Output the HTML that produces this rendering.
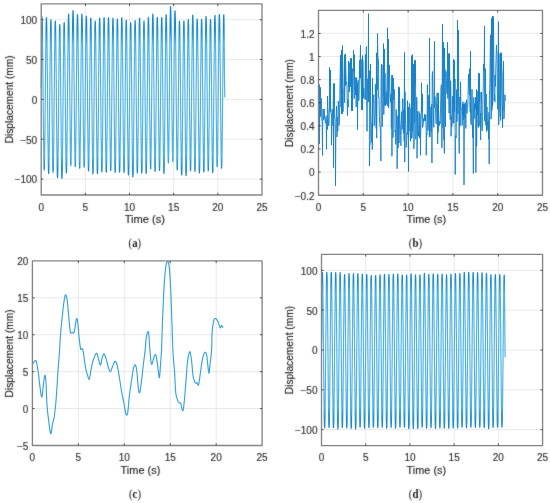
<!DOCTYPE html>
<html><head><meta charset="utf-8"><style>
html,body{margin:0;padding:0;background:#fff;}
svg{display:block;will-change:transform;}
.g{stroke:#e3e3e3;stroke-width:0.8;fill:none;}
.d{stroke:#2597d8;stroke-width:1.2;fill:none;stroke-linejoin:round;}
.bx{stroke:#858585;stroke-width:1.35;fill:none;stroke-linejoin:round;}
.tk{stroke:#333;stroke-width:0.8;}
.tl{font-family:"Liberation Sans",sans-serif;font-size:10px;fill:#303030;stroke:#303030;stroke-width:0.15px;}
.xl{font-family:"Liberation Sans",sans-serif;font-size:10.5px;fill:#262626;stroke:#262626;stroke-width:0.15px;}
.pl{font-family:"Liberation Serif",serif;font-size:11.5px;font-weight:bold;fill:#1a1a1a;}
.pp{font-weight:normal;}
</style></head><body>
<svg width="550" height="503" viewBox="0 0 550 503">

<defs><linearGradient id="ga" gradientUnits="userSpaceOnUse" x1="0" y1="3.80" x2="0" y2="195.00"><stop offset="0.000" stop-color="#1a8bd0"/><stop offset="0.133" stop-color="#1a8bd0"/><stop offset="0.208" stop-color="#4fb3e6"/><stop offset="0.792" stop-color="#4fb3e6"/><stop offset="0.867" stop-color="#1a8bd0"/><stop offset="1.000" stop-color="#1a8bd0"/></linearGradient><linearGradient id="gd" gradientUnits="userSpaceOnUse" x1="0" y1="254.40" x2="0" y2="445.60"><stop offset="0.000" stop-color="#1a8bd0"/><stop offset="0.133" stop-color="#1a8bd0"/><stop offset="0.208" stop-color="#4fb3e6"/><stop offset="0.792" stop-color="#4fb3e6"/><stop offset="0.867" stop-color="#1a8bd0"/><stop offset="1.000" stop-color="#1a8bd0"/></linearGradient><filter id="bl" x="-2%" y="-2%" width="104%" height="104%"><feConvolveMatrix order="3" kernelMatrix="1 2 1 2 24 2 1 2 1" divisor="36" edgeMode="none" preserveAlpha="false"/></filter></defs>
<line x1="85.36" y1="3.8" x2="85.36" y2="195.0" class="g"/>
<line x1="129.52" y1="3.8" x2="129.52" y2="195.0" class="g"/>
<line x1="173.68" y1="3.8" x2="173.68" y2="195.0" class="g"/>
<line x1="217.84" y1="3.8" x2="217.84" y2="195.0" class="g"/>
<line x1="41.2" y1="179.07" x2="262.0" y2="179.07" class="g"/>
<line x1="41.2" y1="139.23" x2="262.0" y2="139.23" class="g"/>
<line x1="41.2" y1="99.40" x2="262.0" y2="99.40" class="g"/>
<line x1="41.2" y1="59.57" x2="262.0" y2="59.57" class="g"/>
<line x1="41.2" y1="19.73" x2="262.0" y2="19.73" class="g"/>
<path d="M41.20,88.25 L41.23,87.94 L41.27,87.03 L41.30,85.53 L41.33,83.47 L41.37,80.87 L41.40,77.79 L41.43,74.28 L41.47,70.40 L41.50,66.21 L41.53,61.79 L41.57,57.21 L41.60,52.56 L41.63,47.90 L41.67,43.32 L41.70,38.90 L41.73,34.71 L41.77,30.83 L41.80,27.32 L41.83,24.24 L41.87,21.65 L41.90,19.58 L41.93,18.08 L41.97,17.17 L42.00,16.87 L42.09,17.52 L42.18,19.47 L42.28,22.69 L42.37,27.12 L42.46,32.68 L42.55,39.28 L42.65,46.80 L42.74,55.13 L42.83,64.10 L42.92,73.58 L43.02,83.40 L43.11,93.39 L43.20,103.37 L43.29,113.19 L43.39,122.67 L43.48,131.65 L43.57,139.97 L43.66,147.49 L43.76,154.09 L43.85,159.65 L43.94,164.08 L44.03,167.30 L44.12,169.25 L44.22,169.91 L44.31,169.25 L44.40,167.31 L44.49,164.11 L44.59,159.71 L44.68,154.17 L44.77,147.61 L44.86,140.12 L44.96,131.84 L45.05,122.91 L45.14,113.49 L45.23,103.72 L45.33,93.78 L45.42,83.85 L45.51,74.08 L45.60,64.65 L45.70,55.72 L45.79,47.44 L45.88,39.96 L45.97,33.39 L46.06,27.86 L46.16,23.46 L46.25,20.26 L46.34,18.31 L46.43,17.66 L46.53,18.33 L46.62,20.32 L46.71,23.59 L46.80,28.10 L46.90,33.76 L46.99,40.48 L47.08,48.14 L47.17,56.62 L47.27,65.76 L47.36,75.41 L47.45,85.41 L47.54,95.58 L47.64,105.75 L47.73,115.74 L47.82,125.39 L47.91,134.53 L48.00,143.01 L48.10,150.67 L48.19,157.39 L48.28,163.05 L48.37,167.56 L48.47,170.84 L48.56,172.82 L48.65,173.49 L48.74,172.83 L48.84,170.87 L48.93,167.64 L49.02,163.20 L49.11,157.62 L49.21,151.00 L49.30,143.44 L49.39,135.09 L49.48,126.08 L49.58,116.57 L49.67,106.72 L49.76,96.69 L49.85,86.67 L49.94,76.81 L50.04,67.30 L50.13,58.29 L50.22,49.94 L50.31,42.39 L50.41,35.76 L50.50,30.18 L50.59,25.74 L50.68,22.51 L50.78,20.55 L50.87,19.89 L50.96,20.54 L51.05,22.49 L51.15,25.68 L51.24,30.09 L51.33,35.61 L51.42,42.18 L51.51,49.66 L51.61,57.93 L51.70,66.86 L51.79,76.28 L51.88,86.04 L51.98,95.97 L52.07,105.90 L52.16,115.67 L52.25,125.09 L52.35,134.02 L52.44,142.29 L52.53,149.77 L52.62,156.33 L52.72,161.86 L52.81,166.26 L52.90,169.46 L52.99,171.41 L53.09,172.06 L53.18,171.41 L53.27,169.48 L53.36,166.31 L53.45,161.94 L53.55,156.45 L53.64,149.94 L53.73,142.51 L53.82,134.29 L53.92,125.43 L54.01,116.08 L54.10,106.39 L54.19,96.53 L54.29,86.67 L54.38,76.98 L54.47,67.63 L54.56,58.77 L54.66,50.56 L54.75,43.13 L54.84,36.61 L54.93,31.13 L55.03,26.76 L55.12,23.58 L55.21,21.65 L55.30,21.01 L55.39,21.68 L55.49,23.68 L55.58,26.97 L55.67,31.49 L55.76,37.18 L55.86,43.93 L55.95,51.63 L56.04,60.14 L56.13,69.33 L56.23,79.02 L56.32,89.06 L56.41,99.28 L56.50,109.50 L56.60,119.54 L56.69,129.23 L56.78,138.42 L56.87,146.93 L56.97,154.63 L57.06,161.38 L57.15,167.07 L57.24,171.59 L57.33,174.89 L57.43,176.88 L57.52,177.55 L57.61,176.90 L57.70,174.95 L57.80,171.73 L57.89,167.30 L57.98,161.74 L58.07,155.14 L58.17,147.62 L58.26,139.29 L58.35,130.32 L58.44,120.84 L58.54,111.02 L58.63,101.03 L58.72,91.05 L58.81,81.23 L58.91,71.75 L59.00,62.77 L59.09,54.45 L59.18,46.93 L59.27,40.33 L59.37,34.77 L59.46,30.34 L59.55,27.12 L59.64,25.17 L59.74,24.51 L59.83,25.17 L59.92,27.13 L60.01,30.37 L60.11,34.82 L60.20,40.41 L60.29,47.04 L60.38,54.61 L60.48,62.97 L60.57,72.00 L60.66,81.52 L60.75,91.39 L60.85,101.43 L60.94,111.47 L61.03,121.34 L61.12,130.87 L61.21,139.89 L61.31,148.26 L61.40,155.82 L61.49,162.45 L61.58,168.04 L61.68,172.49 L61.77,175.73 L61.86,177.69 L61.95,178.35 L62.05,177.68 L62.14,175.70 L62.23,172.42 L62.32,167.92 L62.42,162.26 L62.51,155.54 L62.60,147.88 L62.69,139.41 L62.79,130.28 L62.88,120.63 L62.97,110.64 L63.06,100.48 L63.15,90.31 L63.25,80.32 L63.34,70.67 L63.43,61.54 L63.52,53.07 L63.62,45.41 L63.71,38.69 L63.80,33.03 L63.89,28.53 L63.99,25.25 L64.08,23.27 L64.17,22.60 L64.26,23.24 L64.36,25.16 L64.45,28.32 L64.54,32.67 L64.63,38.13 L64.72,44.61 L64.82,51.99 L64.91,60.16 L65.00,68.98 L65.09,78.28 L65.19,87.92 L65.28,97.73 L65.37,107.53 L65.46,117.17 L65.56,126.48 L65.65,135.29 L65.74,143.46 L65.83,150.85 L65.93,157.33 L66.02,162.79 L66.11,167.13 L66.20,170.29 L66.30,172.21 L66.39,172.85 L66.48,172.17 L66.57,170.15 L66.66,166.81 L66.76,162.22 L66.85,156.45 L66.94,149.60 L67.03,141.79 L67.13,133.16 L67.22,123.85 L67.31,114.01 L67.40,103.83 L67.50,93.46 L67.59,83.10 L67.68,72.92 L67.77,63.08 L67.87,53.77 L67.96,45.14 L68.05,37.33 L68.14,30.48 L68.24,24.71 L68.33,20.12 L68.42,16.78 L68.51,14.76 L68.60,14.08 L68.70,14.72 L68.79,16.66 L68.88,19.84 L68.97,24.22 L69.07,29.72 L69.16,36.26 L69.25,43.70 L69.34,51.94 L69.44,60.82 L69.53,70.20 L69.62,79.92 L69.71,89.80 L69.81,99.68 L69.90,109.40 L69.99,118.78 L70.08,127.66 L70.18,135.90 L70.27,143.34 L70.36,149.88 L70.45,155.38 L70.54,159.76 L70.64,162.94 L70.73,164.88 L70.82,165.52 L70.91,164.86 L71.01,162.88 L71.10,159.62 L71.19,155.14 L71.28,149.50 L71.38,142.82 L71.47,135.20 L71.56,126.77 L71.65,117.67 L71.75,108.07 L71.84,98.13 L71.93,88.01 L72.02,77.89 L72.12,67.95 L72.21,58.34 L72.30,49.25 L72.39,40.82 L72.48,33.20 L72.58,26.51 L72.67,20.88 L72.76,16.39 L72.85,13.13 L72.95,11.16 L73.04,10.49 L73.13,11.16 L73.22,13.15 L73.32,16.43 L73.41,20.95 L73.50,26.63 L73.59,33.36 L73.69,41.04 L73.78,49.53 L73.87,58.69 L73.96,68.36 L74.06,78.37 L74.15,88.57 L74.24,98.76 L74.33,108.77 L74.42,118.44 L74.52,127.60 L74.61,136.09 L74.70,143.77 L74.79,150.51 L74.89,156.18 L74.98,160.70 L75.07,163.98 L75.16,165.97 L75.26,166.64 L75.35,165.99 L75.44,164.05 L75.53,160.86 L75.63,156.46 L75.72,150.94 L75.81,144.39 L75.90,136.92 L76.00,128.66 L76.09,119.75 L76.18,110.34 L76.27,100.59 L76.36,90.68 L76.46,80.76 L76.55,71.02 L76.64,61.61 L76.73,52.70 L76.83,44.43 L76.92,36.96 L77.01,30.41 L77.10,24.89 L77.20,20.50 L77.29,17.30 L77.38,15.36 L77.47,14.71 L77.57,15.37 L77.66,17.33 L77.75,20.56 L77.84,25.00 L77.94,30.58 L78.03,37.20 L78.12,44.75 L78.21,53.09 L78.30,62.10 L78.40,71.61 L78.49,81.45 L78.58,91.47 L78.67,101.49 L78.77,111.34 L78.86,120.85 L78.95,129.85 L79.04,138.20 L79.14,145.75 L79.23,152.37 L79.32,157.95 L79.41,162.39 L79.51,165.62 L79.60,167.58 L79.69,168.23 L79.78,167.57 L79.88,165.61 L79.97,162.36 L80.06,157.91 L80.15,152.30 L80.24,145.66 L80.34,138.08 L80.43,129.69 L80.52,120.65 L80.61,111.10 L80.71,101.22 L80.80,91.15 L80.89,81.09 L80.98,71.21 L81.08,61.66 L81.17,52.62 L81.26,44.23 L81.35,36.65 L81.45,30.00 L81.54,24.40 L81.63,19.94 L81.72,16.70 L81.81,14.74 L81.91,14.08 L82.00,14.73 L82.09,16.68 L82.18,19.90 L82.28,24.33 L82.37,29.89 L82.46,36.49 L82.55,44.01 L82.65,52.34 L82.74,61.31 L82.83,70.79 L82.92,80.61 L83.02,90.60 L83.11,100.58 L83.20,110.40 L83.29,119.88 L83.39,128.86 L83.48,137.18 L83.57,144.70 L83.66,151.30 L83.75,156.86 L83.85,161.29 L83.94,164.51 L84.03,166.46 L84.12,167.12 L84.22,166.47 L84.31,164.54 L84.40,161.36 L84.49,156.99 L84.59,151.50 L84.68,144.98 L84.77,137.55 L84.86,129.33 L84.96,120.47 L85.05,111.11 L85.14,101.42 L85.23,91.55 L85.33,81.69 L85.42,72.00 L85.51,62.64 L85.60,53.77 L85.69,45.55 L85.79,38.12 L85.88,31.60 L85.97,26.11 L86.06,21.74 L86.16,18.56 L86.25,16.64 L86.34,15.99 L86.43,16.65 L86.53,18.63 L86.62,21.89 L86.71,26.37 L86.80,32.01 L86.90,38.69 L86.99,46.32 L87.08,54.75 L87.17,63.84 L87.27,73.44 L87.36,83.39 L87.45,93.50 L87.54,103.62 L87.63,113.57 L87.73,123.17 L87.82,132.26 L87.91,140.69 L88.00,148.32 L88.10,155.00 L88.19,160.64 L88.28,165.12 L88.37,168.38 L88.47,170.36 L88.56,171.02 L88.65,170.37 L88.74,168.41 L88.84,165.20 L88.93,160.77 L89.02,155.21 L89.11,148.61 L89.21,141.08 L89.30,132.76 L89.39,123.78 L89.48,114.31 L89.57,104.49 L89.67,94.50 L89.76,84.51 L89.85,74.70 L89.94,65.22 L90.04,56.24 L90.13,47.92 L90.22,40.39 L90.31,33.79 L90.41,28.23 L90.50,23.81 L90.59,20.59 L90.68,18.64 L90.78,17.98 L90.87,18.65 L90.96,20.64 L91.05,23.91 L91.15,28.42 L91.24,34.09 L91.33,40.81 L91.42,48.48 L91.51,56.96 L91.61,66.10 L91.70,75.76 L91.79,85.76 L91.88,95.93 L91.98,106.11 L92.07,116.11 L92.16,125.77 L92.25,134.91 L92.35,143.39 L92.44,151.06 L92.53,157.78 L92.62,163.44 L92.72,167.95 L92.81,171.23 L92.90,173.22 L92.99,173.89 L93.09,173.23 L93.18,171.28 L93.27,168.07 L93.36,163.65 L93.45,158.09 L93.55,151.50 L93.64,143.98 L93.73,135.67 L93.82,126.70 L93.92,117.23 L94.01,107.43 L94.10,97.45 L94.19,87.47 L94.29,77.66 L94.38,68.20 L94.47,59.23 L94.56,50.91 L94.66,43.40 L94.75,36.80 L94.84,31.25 L94.93,26.83 L95.02,23.61 L95.12,21.66 L95.21,21.01 L95.30,21.66 L95.39,23.61 L95.49,26.82 L95.58,31.24 L95.67,36.79 L95.76,43.37 L95.86,50.88 L95.95,59.19 L96.04,68.15 L96.13,77.60 L96.23,87.40 L96.32,97.37 L96.41,107.34 L96.50,117.13 L96.60,126.59 L96.69,135.55 L96.78,143.85 L96.87,151.36 L96.96,157.95 L97.06,163.50 L97.15,167.92 L97.24,171.13 L97.33,173.08 L97.43,173.73 L97.52,173.06 L97.61,171.08 L97.70,167.81 L97.80,163.31 L97.89,157.65 L97.98,150.94 L98.07,143.29 L98.17,134.83 L98.26,125.71 L98.35,116.07 L98.44,106.09 L98.54,95.93 L98.63,85.78 L98.72,75.80 L98.81,66.16 L98.90,57.04 L99.00,48.58 L99.09,40.93 L99.18,34.22 L99.27,28.56 L99.37,24.06 L99.46,20.79 L99.55,18.81 L99.64,18.14 L99.74,18.80 L99.83,20.76 L99.92,23.99 L100.01,28.43 L100.11,34.02 L100.20,40.65 L100.29,48.20 L100.38,56.56 L100.48,65.57 L100.57,75.09 L100.66,84.95 L100.75,94.98 L100.84,105.01 L100.94,114.87 L101.03,124.38 L101.12,133.40 L101.21,141.75 L101.31,149.31 L101.40,155.94 L101.49,161.52 L101.58,165.97 L101.68,169.20 L101.77,171.16 L101.86,171.82 L101.95,171.16 L102.05,169.19 L102.14,165.95 L102.23,161.49 L102.32,155.89 L102.42,149.24 L102.51,141.66 L102.60,133.28 L102.69,124.24 L102.78,114.69 L102.88,104.80 L102.97,94.74 L103.06,84.68 L103.15,74.79 L103.25,65.24 L103.34,56.20 L103.43,47.82 L103.52,40.24 L103.62,33.59 L103.71,27.99 L103.80,23.53 L103.89,20.29 L103.99,18.32 L104.08,17.66 L104.17,18.32 L104.26,20.29 L104.36,23.54 L104.45,28.00 L104.54,33.61 L104.63,40.27 L104.72,47.86 L104.82,56.26 L104.91,65.32 L105.00,74.88 L105.09,84.78 L105.19,94.86 L105.28,104.94 L105.37,114.84 L105.46,124.40 L105.56,133.46 L105.65,141.85 L105.74,149.45 L105.83,156.10 L105.93,161.71 L106.02,166.18 L106.11,169.43 L106.20,171.40 L106.30,172.06 L106.39,171.40 L106.48,169.42 L106.57,166.18 L106.66,161.71 L106.76,156.10 L106.85,149.43 L106.94,141.84 L107.03,133.44 L107.13,124.38 L107.22,114.81 L107.31,104.90 L107.40,94.82 L107.50,84.74 L107.59,74.83 L107.68,65.26 L107.77,56.20 L107.87,47.80 L107.96,40.20 L108.05,33.54 L108.14,27.93 L108.24,23.46 L108.33,20.21 L108.42,18.24 L108.51,17.58 L108.60,18.24 L108.70,20.19 L108.79,23.40 L108.88,27.82 L108.97,33.37 L109.07,39.96 L109.16,47.47 L109.25,55.78 L109.34,64.75 L109.44,74.21 L109.53,84.01 L109.62,93.98 L109.71,103.95 L109.81,113.76 L109.90,123.22 L109.99,132.18 L110.08,140.49 L110.17,148.01 L110.27,154.60 L110.36,160.15 L110.45,164.57 L110.54,167.78 L110.64,169.73 L110.73,170.38 L110.82,169.73 L110.91,167.79 L111.01,164.59 L111.10,160.19 L111.19,154.66 L111.28,148.10 L111.38,140.62 L111.47,132.34 L111.56,123.42 L111.65,113.99 L111.75,104.23 L111.84,94.30 L111.93,84.37 L112.02,74.61 L112.11,65.19 L112.21,56.26 L112.30,47.99 L112.39,40.50 L112.48,33.94 L112.58,28.41 L112.67,24.01 L112.76,20.81 L112.85,18.87 L112.95,18.22 L113.04,18.88 L113.13,20.85 L113.22,24.09 L113.32,28.55 L113.41,34.16 L113.50,40.81 L113.59,48.39 L113.69,56.78 L113.78,65.83 L113.87,75.38 L113.96,85.27 L114.05,95.34 L114.15,105.40 L114.24,115.30 L114.33,124.85 L114.42,133.90 L114.52,142.28 L114.61,149.87 L114.70,156.52 L114.79,162.12 L114.89,166.58 L114.98,169.83 L115.07,171.79 L115.16,172.45 L115.26,171.80 L115.35,169.84 L115.44,166.61 L115.53,162.18 L115.63,156.60 L115.72,149.98 L115.81,142.44 L115.90,134.09 L115.99,125.09 L116.09,115.59 L116.18,105.75 L116.27,95.74 L116.36,85.72 L116.46,75.88 L116.55,66.38 L116.64,57.38 L116.73,49.03 L116.83,41.49 L116.92,34.87 L117.01,29.29 L117.10,24.86 L117.20,21.63 L117.29,19.67 L117.38,19.02 L117.47,19.67 L117.57,21.62 L117.66,24.84 L117.75,29.27 L117.84,34.83 L117.93,41.43 L118.03,48.95 L118.12,57.28 L118.21,66.25 L118.30,75.73 L118.40,85.55 L118.49,95.54 L118.58,105.52 L118.67,115.34 L118.77,124.82 L118.86,133.80 L118.95,142.12 L119.04,149.64 L119.14,156.24 L119.23,161.80 L119.32,166.23 L119.41,169.45 L119.51,171.40 L119.60,172.06 L119.69,171.40 L119.78,169.43 L119.87,166.18 L119.97,161.71 L120.06,156.10 L120.15,149.45 L120.24,141.85 L120.34,133.46 L120.43,124.40 L120.52,114.84 L120.61,104.94 L120.71,94.86 L120.80,84.78 L120.89,74.88 L120.98,65.32 L121.08,56.26 L121.17,47.86 L121.26,40.27 L121.35,33.61 L121.45,28.00 L121.54,23.54 L121.63,20.29 L121.72,18.32 L121.81,17.66 L121.91,18.32 L122.00,20.30 L122.09,23.55 L122.18,28.03 L122.28,33.66 L122.37,40.33 L122.46,47.94 L122.55,56.36 L122.65,65.44 L122.74,75.03 L122.83,84.96 L122.92,95.06 L123.02,105.16 L123.11,115.09 L123.20,124.68 L123.29,133.76 L123.39,142.17 L123.48,149.79 L123.57,156.46 L123.66,162.09 L123.75,166.56 L123.85,169.82 L123.94,171.79 L124.03,172.45 L124.12,171.80 L124.22,169.86 L124.31,166.65 L124.40,162.25 L124.49,156.71 L124.59,150.14 L124.68,142.64 L124.77,134.35 L124.86,125.41 L124.96,115.98 L125.05,106.20 L125.14,96.25 L125.23,86.31 L125.33,76.53 L125.42,67.09 L125.51,58.15 L125.60,49.86 L125.69,42.37 L125.79,35.80 L125.88,30.26 L125.97,25.85 L126.06,22.65 L126.16,20.70 L126.25,20.05 L126.34,20.71 L126.43,22.69 L126.53,25.94 L126.62,30.42 L126.71,36.05 L126.80,42.72 L126.90,50.33 L126.99,58.75 L127.08,67.83 L127.17,77.42 L127.26,87.35 L127.36,97.45 L127.45,107.55 L127.54,117.48 L127.63,127.07 L127.73,136.15 L127.82,144.56 L127.91,152.18 L128.00,158.85 L128.10,164.48 L128.19,168.95 L128.28,172.21 L128.37,174.18 L128.47,174.84 L128.56,174.19 L128.65,172.25 L128.74,169.05 L128.84,164.65 L128.93,159.11 L129.02,152.55 L129.11,145.06 L129.20,136.78 L129.30,127.85 L129.39,118.42 L129.48,108.66 L129.57,98.72 L129.67,88.79 L129.76,79.02 L129.85,69.59 L129.94,60.66 L130.04,52.38 L130.13,44.90 L130.22,38.33 L130.31,32.80 L130.41,28.40 L130.50,25.20 L130.59,23.25 L130.68,22.60 L130.78,23.26 L130.87,25.23 L130.96,28.48 L131.05,32.94 L131.14,38.55 L131.24,45.21 L131.33,52.80 L131.42,61.20 L131.51,70.26 L131.61,79.82 L131.70,89.72 L131.79,99.80 L131.88,109.87 L131.98,119.78 L132.07,129.34 L132.16,138.40 L132.25,146.79 L132.35,154.38 L132.44,161.04 L132.53,166.65 L132.62,171.12 L132.72,174.36 L132.81,176.33 L132.90,177.00 L132.99,176.33 L133.08,174.33 L133.18,171.05 L133.27,166.52 L133.36,160.85 L133.45,154.10 L133.55,146.42 L133.64,137.92 L133.73,128.75 L133.82,119.07 L133.92,109.04 L134.01,98.84 L134.10,88.64 L134.19,78.61 L134.29,68.93 L134.38,59.77 L134.47,51.27 L134.56,43.58 L134.66,36.84 L134.75,31.16 L134.84,26.64 L134.93,23.35 L135.02,21.36 L135.12,20.69 L135.21,21.34 L135.30,23.28 L135.39,26.48 L135.49,30.88 L135.58,36.41 L135.67,42.97 L135.76,50.46 L135.86,58.73 L135.95,67.66 L136.04,77.08 L136.13,86.84 L136.23,96.77 L136.32,106.70 L136.41,116.46 L136.50,125.89 L136.60,134.81 L136.69,143.09 L136.78,150.57 L136.87,157.13 L136.96,162.66 L137.06,167.06 L137.15,170.26 L137.24,172.20 L137.33,172.85 L137.43,172.19 L137.52,170.21 L137.61,166.96 L137.70,162.48 L137.80,156.85 L137.89,150.17 L137.98,142.56 L138.07,134.13 L138.17,125.05 L138.26,115.46 L138.35,105.52 L138.44,95.42 L138.54,85.31 L138.63,75.37 L138.72,65.78 L138.81,56.70 L138.90,48.28 L139.00,40.66 L139.09,33.98 L139.18,28.36 L139.27,23.88 L139.37,20.62 L139.46,18.64 L139.55,17.98 L139.64,18.64 L139.74,20.62 L139.83,23.88 L139.92,28.37 L140.01,34.01 L140.11,40.70 L140.20,48.32 L140.29,56.76 L140.38,65.86 L140.48,75.46 L140.57,85.41 L140.66,95.54 L140.75,105.66 L140.84,115.61 L140.94,125.22 L141.03,134.31 L141.12,142.75 L141.21,150.38 L141.31,157.07 L141.40,162.70 L141.49,167.19 L141.58,170.45 L141.68,172.43 L141.77,173.09 L141.86,172.44 L141.95,170.50 L142.05,167.31 L142.14,162.91 L142.23,157.39 L142.32,150.84 L142.41,143.37 L142.51,135.11 L142.60,126.20 L142.69,116.79 L142.78,107.04 L142.88,97.13 L142.97,87.21 L143.06,77.47 L143.15,68.06 L143.25,59.15 L143.34,50.89 L143.43,43.42 L143.52,36.86 L143.62,31.34 L143.71,26.95 L143.80,23.76 L143.89,21.82 L143.99,21.17 L144.08,21.82 L144.17,23.76 L144.26,26.96 L144.35,31.37 L144.45,36.91 L144.54,43.47 L144.63,50.96 L144.72,59.25 L144.82,68.18 L144.91,77.62 L145.00,87.39 L145.09,97.33 L145.19,107.27 L145.28,117.04 L145.37,126.47 L145.46,135.41 L145.56,143.69 L145.65,151.18 L145.74,157.75 L145.83,163.29 L145.93,167.69 L146.02,170.89 L146.11,172.84 L146.20,173.49 L146.29,172.82 L146.39,170.83 L146.48,167.55 L146.57,163.04 L146.66,157.36 L146.76,150.63 L146.85,142.96 L146.94,134.47 L147.03,125.32 L147.13,115.65 L147.22,105.64 L147.31,95.46 L147.40,85.27 L147.50,75.26 L147.59,65.59 L147.68,56.44 L147.77,47.95 L147.87,40.28 L147.96,33.55 L148.05,27.88 L148.14,23.36 L148.23,20.08 L148.33,18.09 L148.42,17.42 L148.51,18.07 L148.60,20.00 L148.70,23.19 L148.79,27.57 L148.88,33.08 L148.97,39.61 L149.07,47.06 L149.16,55.30 L149.25,64.19 L149.34,73.58 L149.44,83.30 L149.53,93.19 L149.62,103.08 L149.71,112.79 L149.81,122.18 L149.90,131.07 L149.99,139.31 L150.08,146.76 L150.17,153.29 L150.27,158.80 L150.36,163.18 L150.45,166.37 L150.54,168.30 L150.64,168.95 L150.73,168.29 L150.82,166.31 L150.91,163.05 L151.01,158.57 L151.10,152.95 L151.19,146.27 L151.28,138.65 L151.38,130.23 L151.47,121.15 L151.56,111.55 L151.65,101.62 L151.75,91.51 L151.84,81.41 L151.93,71.47 L152.02,61.88 L152.11,52.80 L152.21,44.37 L152.30,36.76 L152.39,30.08 L152.48,24.45 L152.58,19.97 L152.67,16.72 L152.76,14.74 L152.85,14.08 L152.95,14.75 L153.04,16.76 L153.13,20.06 L153.22,24.61 L153.32,30.33 L153.41,37.11 L153.50,44.84 L153.59,53.39 L153.69,62.62 L153.78,72.36 L153.87,82.44 L153.96,92.71 L154.05,102.97 L154.15,113.06 L154.24,122.80 L154.33,132.02 L154.42,140.58 L154.52,148.31 L154.61,155.09 L154.70,160.80 L154.79,165.35 L154.89,168.66 L154.98,170.67 L155.07,171.34 L155.16,170.68 L155.26,168.72 L155.35,165.48 L155.44,161.03 L155.53,155.44 L155.62,148.80 L155.72,141.23 L155.81,132.86 L155.90,123.83 L155.99,114.30 L156.09,104.43 L156.18,94.38 L156.27,84.34 L156.36,74.46 L156.46,64.93 L156.55,55.90 L156.64,47.53 L156.73,39.96 L156.83,33.33 L156.92,27.73 L157.01,23.28 L157.10,20.05 L157.20,18.08 L157.29,17.42 L157.38,18.08 L157.47,20.03 L157.56,23.24 L157.66,27.67 L157.75,33.23 L157.84,39.82 L157.93,47.34 L158.03,55.66 L158.12,64.64 L158.21,74.11 L158.30,83.92 L158.40,93.90 L158.49,103.89 L158.58,113.70 L158.67,123.17 L158.77,132.14 L158.86,140.46 L158.95,147.98 L159.04,154.58 L159.14,160.14 L159.23,164.56 L159.32,167.78 L159.41,169.73 L159.50,170.38 L159.60,169.73 L159.69,167.78 L159.78,164.57 L159.87,160.15 L159.97,154.60 L160.06,148.02 L160.15,140.51 L160.24,132.20 L160.34,123.24 L160.43,113.79 L160.52,103.99 L160.61,94.02 L160.71,84.06 L160.80,74.26 L160.89,64.80 L160.98,55.84 L161.08,47.54 L161.17,40.03 L161.26,33.44 L161.35,27.89 L161.44,23.47 L161.54,20.26 L161.63,18.32 L161.72,17.66 L161.81,18.33 L161.91,20.32 L162.00,23.59 L162.09,28.10 L162.18,33.76 L162.28,40.48 L162.37,48.14 L162.46,56.62 L162.55,65.76 L162.65,75.41 L162.74,85.41 L162.83,95.58 L162.92,105.75 L163.02,115.74 L163.11,125.39 L163.20,134.53 L163.29,143.01 L163.38,150.67 L163.48,157.39 L163.57,163.05 L163.66,167.56 L163.75,170.84 L163.85,172.82 L163.94,173.49 L164.03,172.81 L164.12,170.78 L164.22,167.45 L164.31,162.85 L164.40,157.08 L164.49,150.24 L164.59,142.43 L164.68,133.80 L164.77,124.48 L164.86,114.65 L164.96,104.46 L165.05,94.10 L165.14,83.74 L165.23,73.56 L165.32,63.72 L165.42,54.41 L165.51,45.77 L165.60,37.97 L165.69,31.12 L165.79,25.35 L165.88,20.76 L165.97,17.42 L166.06,15.39 L166.16,14.71 L166.25,15.35 L166.34,17.24 L166.43,20.35 L166.53,24.64 L166.62,30.02 L166.71,36.40 L166.80,43.69 L166.90,51.74 L166.99,60.43 L167.08,69.60 L167.17,79.10 L167.26,88.76 L167.36,98.43 L167.45,107.93 L167.54,117.10 L167.63,125.79 L167.73,133.84 L167.82,141.13 L167.91,147.51 L168.00,152.89 L168.10,157.18 L168.19,160.29 L168.28,162.18 L168.37,162.81 L168.47,162.15 L168.56,160.15 L168.65,156.87 L168.74,152.34 L168.84,146.66 L168.93,139.92 L169.02,132.24 L169.11,123.74 L169.20,114.57 L169.30,104.89 L169.39,94.86 L169.48,84.66 L169.57,74.46 L169.67,64.43 L169.76,54.75 L169.85,45.59 L169.94,37.09 L170.04,29.40 L170.13,22.66 L170.22,16.98 L170.31,12.46 L170.41,9.17 L170.50,7.18 L170.59,6.51 L170.68,7.17 L170.78,9.15 L170.87,12.42 L170.96,16.90 L171.05,22.54 L171.14,29.24 L171.24,36.87 L171.33,45.31 L171.42,54.41 L171.51,64.02 L171.61,73.98 L171.70,84.10 L171.79,94.23 L171.88,104.19 L171.98,113.80 L172.07,122.90 L172.16,131.34 L172.25,138.97 L172.35,145.66 L172.44,151.30 L172.53,155.79 L172.62,159.06 L172.71,161.04 L172.81,161.70 L172.90,161.05 L172.99,159.13 L173.08,155.96 L173.18,151.60 L173.27,146.12 L173.36,139.61 L173.45,132.20 L173.55,124.00 L173.64,115.15 L173.73,105.81 L173.82,96.14 L173.92,86.29 L174.01,76.45 L174.10,66.78 L174.19,57.44 L174.29,48.59 L174.38,40.39 L174.47,32.98 L174.56,26.47 L174.65,20.99 L174.75,16.63 L174.84,13.46 L174.93,11.54 L175.02,10.89 L175.12,11.57 L175.21,13.60 L175.30,16.94 L175.39,21.54 L175.49,27.32 L175.58,34.18 L175.67,42.00 L175.76,50.64 L175.86,59.97 L175.95,69.82 L176.04,80.02 L176.13,90.40 L176.23,100.78 L176.32,110.98 L176.41,120.82 L176.50,130.15 L176.59,138.80 L176.69,146.62 L176.78,153.48 L176.87,159.25 L176.96,163.85 L177.06,167.20 L177.15,169.22 L177.24,169.91 L177.33,169.27 L177.43,167.37 L177.52,164.24 L177.61,159.93 L177.70,154.52 L177.80,148.10 L177.89,140.78 L177.98,132.68 L178.07,123.95 L178.17,114.73 L178.26,105.17 L178.35,95.46 L178.44,85.74 L178.53,76.19 L178.63,66.97 L178.72,58.23 L178.81,50.14 L178.90,42.81 L179.00,36.39 L179.09,30.98 L179.18,26.68 L179.27,23.54 L179.37,21.64 L179.46,21.01 L179.55,21.67 L179.64,23.63 L179.74,26.87 L179.83,31.32 L179.92,36.92 L180.01,43.56 L180.11,51.13 L180.20,59.51 L180.29,68.54 L180.38,78.08 L180.47,87.96 L180.57,98.01 L180.66,108.06 L180.75,117.93 L180.84,127.47 L180.94,136.50 L181.03,144.88 L181.12,152.45 L181.21,159.09 L181.31,164.69 L181.40,169.14 L181.49,172.38 L181.58,174.34 L181.68,175.00 L181.77,174.34 L181.86,172.38 L181.95,169.14 L182.05,164.69 L182.14,159.09 L182.23,152.45 L182.32,144.88 L182.41,136.50 L182.51,127.47 L182.60,117.93 L182.69,108.06 L182.78,98.01 L182.88,87.96 L182.97,78.08 L183.06,68.54 L183.15,59.51 L183.25,51.13 L183.34,43.56 L183.43,36.92 L183.52,31.32 L183.62,26.87 L183.71,23.63 L183.80,21.67 L183.89,21.01 L183.99,21.67 L184.08,23.64 L184.17,26.89 L184.26,31.37 L184.35,36.99 L184.45,43.65 L184.54,51.26 L184.63,59.67 L184.72,68.74 L184.82,78.31 L184.91,88.23 L185.00,98.32 L185.09,108.42 L185.19,118.34 L185.28,127.91 L185.37,136.98 L185.46,145.39 L185.56,153.00 L185.65,159.66 L185.74,165.28 L185.83,169.76 L185.93,173.01 L186.02,174.98 L186.11,175.64 L186.20,174.97 L186.29,172.98 L186.39,169.70 L186.48,165.19 L186.57,159.52 L186.66,152.79 L186.76,145.11 L186.85,136.62 L186.94,127.47 L187.03,117.80 L187.13,107.79 L187.22,97.61 L187.31,87.42 L187.40,77.41 L187.50,67.75 L187.59,58.59 L187.68,50.10 L187.77,42.43 L187.86,35.70 L187.96,30.03 L188.05,25.51 L188.14,22.23 L188.23,20.24 L188.33,19.57 L188.42,20.22 L188.51,22.15 L188.60,25.33 L188.70,29.70 L188.79,35.19 L188.88,41.71 L188.97,49.14 L189.07,57.36 L189.16,66.22 L189.25,75.58 L189.34,85.27 L189.44,95.14 L189.53,105.00 L189.62,114.70 L189.71,124.05 L189.80,132.92 L189.90,141.14 L189.99,148.57 L190.08,155.09 L190.17,160.58 L190.27,164.95 L190.36,168.13 L190.45,170.06 L190.54,170.70 L190.64,170.04 L190.73,168.05 L190.82,164.78 L190.91,160.28 L191.01,154.63 L191.10,147.93 L191.19,140.28 L191.28,131.82 L191.38,122.70 L191.47,113.07 L191.56,103.10 L191.65,92.95 L191.74,82.80 L191.84,72.82 L191.93,63.19 L192.02,54.07 L192.11,45.61 L192.21,37.97 L192.30,31.26 L192.39,25.61 L192.48,21.11 L192.58,17.84 L192.67,15.86 L192.76,15.19 L192.85,15.86 L192.95,17.86 L193.04,21.14 L193.13,25.66 L193.22,31.34 L193.32,38.08 L193.41,45.77 L193.50,54.27 L193.59,63.44 L193.68,73.12 L193.78,83.14 L193.87,93.35 L193.96,103.55 L194.05,113.57 L194.15,123.25 L194.24,132.42 L194.33,140.92 L194.42,148.61 L194.52,155.35 L194.61,161.03 L194.70,165.55 L194.79,168.84 L194.89,170.83 L194.98,171.50 L195.07,170.85 L195.16,168.90 L195.26,165.69 L195.35,161.28 L195.44,155.74 L195.53,149.17 L195.62,141.67 L195.72,133.38 L195.81,124.43 L195.90,114.99 L195.99,105.21 L196.09,95.26 L196.18,85.31 L196.27,75.52 L196.36,66.08 L196.46,57.14 L196.55,48.84 L196.64,41.35 L196.73,34.77 L196.83,29.23 L196.92,24.82 L197.01,21.61 L197.10,19.67 L197.20,19.02 L197.29,19.67 L197.38,21.64 L197.47,24.87 L197.56,29.32 L197.66,34.91 L197.75,41.55 L197.84,49.11 L197.93,57.48 L198.03,66.50 L198.12,76.03 L198.21,85.89 L198.30,95.93 L198.40,105.97 L198.49,115.84 L198.58,125.37 L198.67,134.39 L198.77,142.76 L198.86,150.32 L198.95,156.96 L199.04,162.55 L199.14,167.00 L199.23,170.23 L199.32,172.19 L199.41,172.85 L199.50,172.20 L199.60,170.24 L199.69,167.01 L199.78,162.56 L199.87,156.98 L199.97,150.36 L200.06,142.81 L200.15,134.45 L200.24,125.44 L200.34,115.93 L200.43,106.08 L200.52,96.05 L200.61,86.03 L200.71,76.18 L200.80,66.66 L200.89,57.65 L200.98,49.30 L201.07,41.75 L201.17,35.13 L201.26,29.54 L201.35,25.10 L201.44,21.87 L201.54,19.91 L201.63,19.26 L201.72,19.91 L201.81,21.86 L201.91,25.06 L202.00,29.48 L202.09,35.03 L202.18,41.61 L202.28,49.11 L202.37,57.42 L202.46,66.37 L202.55,75.82 L202.65,85.61 L202.74,95.58 L202.83,105.54 L202.92,115.33 L203.01,124.78 L203.11,133.74 L203.20,142.04 L203.29,149.54 L203.38,156.13 L203.48,161.67 L203.57,166.09 L203.66,169.30 L203.75,171.24 L203.85,171.90 L203.94,171.23 L204.03,169.25 L204.12,165.97 L204.22,161.47 L204.31,155.82 L204.40,149.11 L204.49,141.46 L204.59,133.00 L204.68,123.87 L204.77,114.24 L204.86,104.26 L204.95,94.10 L205.05,83.95 L205.14,73.97 L205.23,64.33 L205.32,55.20 L205.42,46.74 L205.51,39.09 L205.60,32.38 L205.69,26.73 L205.79,22.23 L205.88,18.96 L205.97,16.97 L206.06,16.31 L206.16,16.97 L206.25,18.94 L206.34,22.18 L206.43,26.64 L206.53,32.25 L206.62,38.91 L206.71,46.49 L206.80,54.89 L206.89,63.94 L206.99,73.50 L207.08,83.39 L207.17,93.46 L207.26,103.54 L207.36,113.43 L207.45,122.99 L207.54,132.04 L207.63,140.44 L207.73,148.02 L207.82,154.68 L207.91,160.28 L208.00,164.75 L208.10,167.99 L208.19,169.96 L208.28,170.62 L208.37,169.98 L208.47,168.05 L208.56,164.87 L208.65,160.50 L208.74,155.02 L208.83,148.50 L208.93,141.07 L209.02,132.86 L209.11,124.00 L209.20,114.65 L209.30,104.96 L209.39,95.10 L209.48,85.24 L209.57,75.55 L209.67,66.20 L209.76,57.34 L209.85,49.12 L209.94,41.69 L210.04,35.18 L210.13,29.69 L210.22,25.32 L210.31,22.15 L210.41,20.22 L210.50,19.57 L210.59,20.23 L210.68,22.18 L210.77,25.40 L210.87,29.83 L210.96,35.39 L211.05,42.00 L211.14,49.53 L211.24,57.85 L211.33,66.84 L211.42,76.32 L211.51,86.14 L211.61,96.13 L211.70,106.13 L211.79,115.95 L211.88,125.43 L211.98,134.41 L212.07,142.74 L212.16,150.27 L212.25,156.87 L212.35,162.44 L212.44,166.87 L212.53,170.08 L212.62,172.04 L212.71,172.69 L212.81,172.02 L212.90,170.01 L212.99,166.70 L213.08,162.15 L213.18,156.44 L213.27,149.65 L213.36,141.91 L213.45,133.36 L213.55,124.13 L213.64,114.38 L213.73,104.29 L213.82,94.02 L213.92,83.75 L214.01,73.66 L214.10,63.92 L214.19,54.69 L214.29,46.13 L214.38,38.39 L214.47,31.61 L214.56,25.89 L214.65,21.34 L214.75,18.03 L214.84,16.02 L214.93,15.35 L215.02,16.00 L215.12,17.93 L215.21,21.11 L215.30,25.49 L215.39,30.98 L215.49,37.51 L215.58,44.95 L215.67,53.17 L215.76,62.05 L215.86,71.42 L215.95,81.12 L216.04,91.00 L216.13,100.87 L216.23,110.57 L216.32,119.94 L216.41,128.82 L216.50,137.04 L216.59,144.48 L216.69,151.01 L216.78,156.50 L216.87,160.88 L216.96,164.06 L217.06,165.99 L217.15,166.64 L217.24,165.99 L217.33,164.05 L217.43,160.85 L217.52,156.45 L217.61,150.92 L217.70,144.37 L217.80,136.89 L217.89,128.62 L217.98,119.70 L218.07,110.28 L218.16,100.52 L218.26,90.60 L218.35,80.67 L218.44,70.92 L218.53,61.50 L218.63,52.58 L218.72,44.31 L218.81,36.83 L218.90,30.27 L219.00,24.74 L219.09,20.34 L219.18,17.15 L219.27,15.21 L219.37,14.56 L219.46,15.21 L219.55,17.17 L219.64,20.40 L219.74,24.84 L219.83,30.42 L219.92,37.04 L220.01,44.59 L220.10,52.93 L220.20,61.94 L220.29,71.45 L220.38,81.29 L220.47,91.31 L220.57,101.33 L220.66,111.18 L220.75,120.69 L220.84,129.69 L220.94,138.04 L221.03,145.59 L221.12,152.21 L221.21,157.79 L221.31,162.23 L221.40,165.46 L221.49,167.42 L221.58,168.07 L221.68,167.42 L221.77,165.46 L221.86,162.24 L221.95,157.82 L222.04,152.25 L222.14,145.65 L222.23,138.12 L222.32,129.79 L222.41,120.81 L222.51,111.33 L222.60,101.51 L222.69,91.51 L222.78,81.52 L222.88,71.70 L222.97,62.21 L223.06,53.23 L223.15,44.91 L223.25,37.38 L223.34,30.77 L223.43,25.21 L223.52,20.78 L223.62,17.56 L223.71,15.61 L223.80,14.95 L223.84,15.31 L223.89,16.36 L223.93,18.09 L223.98,20.48 L224.02,23.48 L224.06,27.04 L224.11,31.10 L224.15,35.59 L224.20,40.43 L224.24,45.54 L224.29,50.83 L224.33,56.22 L224.37,61.61 L224.42,66.90 L224.46,72.01 L224.51,76.85 L224.55,81.34 L224.59,85.40 L224.64,88.96 L224.68,91.96 L224.73,94.35 L224.77,96.08 L224.82,97.13 L224.86,97.49" class="d" style="stroke:url(#ga)"/>
<rect x="41.2" y="3.8" width="220.80" height="191.20" class="bx"/>
<line x1="85.36" y1="195.0" x2="85.36" y2="192.8" class="tk"/>
<line x1="85.36" y1="3.8" x2="85.36" y2="6.0" class="tk"/>
<line x1="129.52" y1="195.0" x2="129.52" y2="192.8" class="tk"/>
<line x1="129.52" y1="3.8" x2="129.52" y2="6.0" class="tk"/>
<line x1="173.68" y1="195.0" x2="173.68" y2="192.8" class="tk"/>
<line x1="173.68" y1="3.8" x2="173.68" y2="6.0" class="tk"/>
<line x1="217.84" y1="195.0" x2="217.84" y2="192.8" class="tk"/>
<line x1="217.84" y1="3.8" x2="217.84" y2="6.0" class="tk"/>
<line x1="41.2" y1="179.07" x2="43.400000000000006" y2="179.07" class="tk"/>
<line x1="262.0" y1="179.07" x2="259.8" y2="179.07" class="tk"/>
<line x1="41.2" y1="139.23" x2="43.400000000000006" y2="139.23" class="tk"/>
<line x1="262.0" y1="139.23" x2="259.8" y2="139.23" class="tk"/>
<line x1="41.2" y1="99.40" x2="43.400000000000006" y2="99.40" class="tk"/>
<line x1="262.0" y1="99.40" x2="259.8" y2="99.40" class="tk"/>
<line x1="41.2" y1="59.57" x2="43.400000000000006" y2="59.57" class="tk"/>
<line x1="262.0" y1="59.57" x2="259.8" y2="59.57" class="tk"/>
<line x1="41.2" y1="19.73" x2="43.400000000000006" y2="19.73" class="tk"/>
<line x1="262.0" y1="19.73" x2="259.8" y2="19.73" class="tk"/>

<line x1="363.30" y1="10.3" x2="363.30" y2="195.2" class="g"/>
<line x1="408.10" y1="10.3" x2="408.10" y2="195.2" class="g"/>
<line x1="452.90" y1="10.3" x2="452.90" y2="195.2" class="g"/>
<line x1="497.70" y1="10.3" x2="497.70" y2="195.2" class="g"/>
<line x1="318.5" y1="172.09" x2="542.5" y2="172.09" class="g"/>
<line x1="318.5" y1="148.97" x2="542.5" y2="148.97" class="g"/>
<line x1="318.5" y1="125.86" x2="542.5" y2="125.86" class="g"/>
<line x1="318.5" y1="102.75" x2="542.5" y2="102.75" class="g"/>
<line x1="318.5" y1="79.64" x2="542.5" y2="79.64" class="g"/>
<line x1="318.5" y1="56.53" x2="542.5" y2="56.53" class="g"/>
<line x1="318.5" y1="33.41" x2="542.5" y2="33.41" class="g"/>
<path d="M318.60,134.03 L319.00,136.86 L319.40,118.24 L319.50,84.60 L319.50,143.71 L319.80,99.46 L320.20,93.52 L320.50,87.40 L320.60,116.54 L321.00,98.15 L321.40,98.71 L321.80,119.86 L322.20,121.21 L322.50,155.40 L322.60,127.19 L323.00,109.00 L323.40,119.66 L323.80,120.08 L324.20,109.00 L324.60,118.40 L325.00,118.40 L325.40,123.00 L325.80,123.00 L326.20,115.81 L326.50,149.30 L326.60,131.68 L327.00,119.67 L327.40,129.39 L327.50,96.00 L327.80,106.42 L328.20,113.23 L328.60,125.80 L329.00,123.71 L329.40,110.94 L329.50,67.60 L329.80,83.86 L330.20,111.80 L330.50,70.00 L330.60,106.82 L331.00,113.71 L331.40,113.84 L331.50,145.00 L331.80,134.75 L332.20,109.22 L332.60,114.08 L333.00,125.80 L333.40,90.36 L333.50,83.50 L333.50,167.60 L333.80,105.79 L334.20,105.82 L334.50,83.50 L334.60,118.40 L335.00,118.40 L335.40,139.29 L335.50,185.80 L335.80,138.32 L336.20,117.84 L336.60,106.21 L337.00,136.91 L337.40,117.10 L337.80,131.19 L338.20,101.01 L338.60,101.54 L339.00,125.41 L339.40,123.00 L339.80,96.20 L340.20,73.51 L340.50,55.00 L340.60,89.21 L341.00,107.10 L341.40,95.69 L341.50,50.00 L341.50,113.71 L341.80,96.05 L342.20,65.07 L342.50,45.50 L342.50,113.71 L342.60,96.88 L343.00,111.81 L343.40,89.40 L343.80,89.40 L344.20,66.72 L344.50,54.70 L344.60,102.59 L345.00,66.35 L345.40,85.55 L345.50,53.90 L345.80,69.64 L346.20,84.05 L346.60,82.30 L347.00,87.89 L347.40,111.21 L347.50,115.60 L347.80,99.31 L348.20,107.10 L348.50,61.21 L348.60,86.98 L349.00,76.91 L349.40,92.12 L349.80,62.59 L350.20,78.11 L350.50,58.00 L350.60,86.66 L351.00,60.58 L351.40,89.90 L351.50,58.40 L351.50,110.90 L351.80,71.35 L352.20,68.71 L352.50,110.90 L352.60,71.93 L353.00,68.71 L353.40,71.11 L353.50,50.20 L353.80,79.98 L354.20,98.71 L354.50,54.70 L354.60,89.39 L355.00,86.66 L355.40,94.96 L355.80,77.10 L356.20,107.10 L356.60,78.00 L357.00,96.16 L357.40,82.70 L357.50,129.60 L357.80,82.70 L358.20,80.34 L358.60,100.60 L359.00,100.60 L359.40,76.38 L359.50,60.30 L359.80,78.11 L360.20,60.77 L360.50,45.30 L360.60,78.14 L361.00,68.31 L361.40,93.92 L361.50,110.00 L361.80,59.30 L362.20,69.17 L362.50,55.60 L362.50,110.00 L362.60,59.84 L363.00,62.40 L363.40,97.92 L363.80,88.37 L364.20,98.71 L364.60,98.71 L365.00,98.71 L365.40,54.41 L365.80,99.80 L366.20,48.41 L366.50,46.40 L366.60,78.26 L367.00,131.31 L367.40,90.85 L367.80,78.57 L368.20,102.03 L368.50,13.70 L368.60,100.13 L369.00,101.55 L369.40,70.68 L369.43,165.84 L369.80,144.26 L370.20,144.55 L370.50,64.00 L370.60,100.85 L371.00,118.89 L371.40,132.74 L371.80,142.56 L372.20,122.77 L372.30,149.62 L372.50,78.00 L372.60,128.04 L373.00,103.66 L373.40,94.90 L373.80,94.90 L374.20,125.78 L374.60,124.58 L375.00,109.42 L375.40,84.33 L375.80,104.98 L376.20,128.53 L376.50,52.80 L376.60,126.73 L376.69,138.17 L377.00,75.82 L377.40,89.37 L377.50,33.40 L377.80,55.35 L378.20,59.30 L378.50,59.30 L378.60,97.23 L379.00,96.95 L379.40,116.39 L379.80,123.85 L380.20,128.68 L380.60,132.11 L380.89,161.07 L381.00,84.86 L381.40,64.00 L381.50,64.00 L381.80,105.79 L382.20,126.87 L382.60,111.63 L383.00,65.00 L383.40,96.19 L383.50,43.61 L383.80,114.40 L384.20,68.23 L384.50,49.00 L384.60,105.41 L385.00,73.27 L385.40,105.89 L385.80,104.89 L386.20,91.73 L386.60,104.34 L387.00,78.35 L387.40,67.39 L387.50,27.80 L387.80,106.19 L388.20,67.03 L388.50,39.01 L388.60,107.80 L389.00,91.90 L389.40,65.00 L389.80,87.75 L390.20,96.95 L390.60,102.22 L391.00,94.44 L391.40,128.68 L391.80,75.20 L391.95,156.30 L392.20,85.50 L392.50,75.20 L392.60,98.86 L393.00,137.51 L393.40,81.24 L393.50,78.00 L393.80,99.55 L394.20,89.30 L394.60,96.44 L395.00,132.32 L395.40,130.31 L395.80,144.43 L396.20,109.55 L396.60,125.18 L397.00,145.42 L397.11,168.70 L397.40,144.01 L397.80,115.73 L398.20,147.95 L398.50,86.89 L398.60,103.78 L399.00,143.07 L399.40,128.88 L399.50,87.40 L399.80,118.97 L400.20,124.88 L400.60,135.79 L400.92,145.80 L401.00,139.09 L401.40,120.02 L401.80,111.64 L402.20,129.39 L402.50,98.71 L402.60,98.71 L403.00,98.71 L403.40,133.20 L403.80,109.83 L404.20,141.56 L404.50,52.50 L404.60,96.01 L404.74,162.02 L405.00,91.75 L405.40,118.02 L405.80,123.63 L406.20,147.35 L406.60,139.58 L407.00,132.68 L407.40,134.37 L407.50,100.60 L407.80,120.48 L408.20,127.42 L408.56,171.57 L408.60,107.10 L409.00,131.21 L409.40,103.78 L409.50,103.40 L409.80,106.25 L410.20,133.02 L410.60,141.19 L411.00,108.10 L411.40,138.30 L411.50,55.60 L411.80,95.97 L411.91,138.17 L412.20,129.41 L412.50,54.70 L412.60,131.25 L413.00,111.00 L413.40,105.44 L413.50,64.00 L413.80,136.83 L413.82,148.66 L414.20,136.98 L414.50,60.30 L414.60,122.35 L415.00,74.08 L415.40,83.91 L415.50,60.30 L415.80,139.29 L416.20,121.29 L416.60,96.99 L417.00,101.02 L417.06,158.21 L417.40,111.46 L417.80,134.58 L418.20,132.48 L418.60,136.22 L419.00,111.36 L419.40,138.11 L419.80,113.79 L420.20,113.65 L420.50,155.34 L420.60,137.83 L421.00,121.69 L421.40,114.79 L421.50,82.70 L421.80,112.39 L422.20,108.91 L422.50,93.90 L422.60,127.46 L423.00,125.05 L423.40,122.80 L423.80,118.21 L424.20,120.80 L424.60,114.35 L425.00,121.08 L425.40,120.72 L425.80,114.71 L426.20,132.06 L426.22,155.34 L426.60,133.12 L427.00,134.24 L427.40,84.60 L427.80,130.60 L428.20,129.19 L428.60,95.33 L429.00,104.52 L429.40,136.66 L429.50,38.00 L429.80,137.15 L430.20,136.47 L430.60,112.87 L431.00,106.74 L431.40,131.57 L431.80,104.09 L431.95,162.98 L432.20,75.37 L432.50,71.50 L432.60,81.17 L433.00,96.12 L433.40,110.77 L433.80,127.38 L434.20,67.53 L434.50,41.31 L434.60,107.59 L435.00,96.69 L435.40,106.68 L435.80,116.01 L436.20,124.00 L436.60,101.88 L437.00,92.68 L437.40,93.00 L437.67,143.89 L437.80,104.08 L438.20,132.22 L438.50,93.00 L438.60,108.86 L439.00,125.97 L439.40,125.17 L439.80,121.36 L440.20,123.57 L440.60,105.66 L441.00,87.40 L441.40,84.60 L441.80,127.21 L441.87,147.72 L442.20,89.29 L442.50,24.01 L442.60,85.61 L443.00,128.12 L443.40,70.27 L443.50,42.20 L443.80,139.63 L444.20,128.50 L444.35,153.44 L444.50,48.00 L444.60,77.80 L445.00,69.35 L445.40,126.81 L445.80,73.40 L446.20,71.50 L446.60,87.95 L447.00,94.04 L447.40,89.03 L447.50,42.20 L447.80,98.46 L448.20,80.20 L448.50,53.71 L448.60,85.02 L449.00,113.00 L449.40,108.82 L449.50,53.50 L449.80,83.34 L450.20,119.63 L450.60,80.80 L451.00,96.00 L451.03,136.26 L451.40,116.36 L451.80,126.37 L452.20,110.98 L452.60,96.29 L453.00,123.45 L453.40,104.24 L453.50,59.30 L453.80,123.10 L454.20,74.44 L454.50,60.30 L454.60,111.44 L455.00,78.98 L455.23,174.42 L455.40,135.70 L455.80,136.76 L456.20,137.95 L456.60,89.60 L457.00,121.52 L457.40,94.94 L457.50,20.30 L457.80,114.05 L458.20,101.04 L458.50,30.00 L458.60,72.43 L459.00,141.41 L459.24,153.44 L459.40,132.63 L459.80,96.99 L460.20,125.97 L460.50,81.80 L460.60,86.24 L461.00,108.17 L461.40,108.24 L461.80,110.03 L462.20,125.41 L462.50,104.00 L462.60,115.73 L463.00,101.78 L463.40,119.88 L463.50,104.00 L463.80,127.90 L464.01,184.93 L464.20,139.66 L464.50,104.00 L464.60,117.75 L465.00,102.62 L465.40,111.61 L465.50,104.00 L465.80,128.43 L466.20,102.18 L466.60,99.77 L467.00,113.46 L467.40,106.03 L467.80,106.52 L468.20,89.67 L468.50,74.30 L468.60,81.76 L469.00,90.50 L469.40,94.87 L469.50,68.71 L469.80,91.69 L470.20,112.19 L470.50,51.11 L470.60,120.06 L471.00,124.00 L471.40,124.91 L471.80,89.40 L472.20,90.20 L472.60,137.68 L473.00,124.59 L473.36,173.47 L473.40,129.43 L473.80,97.38 L474.20,118.73 L474.50,104.00 L474.60,109.98 L475.00,103.11 L475.40,108.20 L475.80,96.99 L475.84,172.52 L476.20,120.03 L476.50,89.30 L476.60,146.34 L477.00,101.99 L477.40,115.14 L477.80,91.10 L478.20,126.72 L478.50,73.40 L478.60,127.43 L479.00,85.89 L479.40,102.10 L479.50,73.40 L479.80,125.48 L480.20,120.17 L480.60,113.00 L480.61,140.08 L481.00,92.00 L481.40,101.02 L481.50,92.00 L481.80,125.67 L482.20,130.73 L482.60,122.94 L483.00,96.99 L483.40,81.64 L483.50,64.00 L483.80,71.04 L484.20,71.19 L484.50,25.90 L484.60,121.17 L485.00,101.96 L485.40,71.31 L485.50,68.71 L485.80,125.27 L486.20,93.90 L486.60,131.59 L487.00,106.92 L487.40,121.47 L487.80,130.09 L488.20,120.79 L488.60,139.12 L489.00,112.25 L489.20,163.93 L489.40,95.37 L489.80,87.40 L490.20,57.41 L490.50,34.80 L490.60,60.15 L491.00,119.22 L491.40,114.81 L491.50,18.40 L491.80,110.77 L492.20,107.08 L492.50,16.10 L492.60,105.48 L493.00,90.13 L493.40,37.94 L493.50,16.51 L493.80,61.37 L494.20,100.46 L494.60,94.91 L494.92,101.91 L495.00,75.14 L495.40,86.42 L495.80,68.71 L496.20,53.96 L496.50,45.00 L496.60,51.80 L497.00,51.80 L497.40,95.92 L497.80,109.33 L498.20,79.04 L498.50,21.69 L498.60,90.94 L498.74,124.81 L499.00,53.59 L499.40,93.70 L499.80,108.30 L500.20,116.50 L500.50,52.80 L500.60,120.50 L501.00,108.57 L501.40,89.44 L501.50,52.80 L501.80,68.51 L502.20,72.63 L502.56,127.68 L502.60,106.86 L503.00,110.19 L503.40,97.79 L503.50,61.21 L503.80,119.08 L504.20,117.23 L504.60,100.57 L505.00,94.75 L505.40,100.88" class="d" style="stroke:#1680c8;stroke-width:0.9"/>
<rect x="318.5" y="10.3" width="224.00" height="184.90" class="bx"/>
<line x1="363.30" y1="195.2" x2="363.30" y2="193.0" class="tk"/>
<line x1="363.30" y1="10.3" x2="363.30" y2="12.5" class="tk"/>
<line x1="408.10" y1="195.2" x2="408.10" y2="193.0" class="tk"/>
<line x1="408.10" y1="10.3" x2="408.10" y2="12.5" class="tk"/>
<line x1="452.90" y1="195.2" x2="452.90" y2="193.0" class="tk"/>
<line x1="452.90" y1="10.3" x2="452.90" y2="12.5" class="tk"/>
<line x1="497.70" y1="195.2" x2="497.70" y2="193.0" class="tk"/>
<line x1="497.70" y1="10.3" x2="497.70" y2="12.5" class="tk"/>
<line x1="318.5" y1="172.09" x2="320.7" y2="172.09" class="tk"/>
<line x1="542.5" y1="172.09" x2="540.3" y2="172.09" class="tk"/>
<line x1="318.5" y1="148.97" x2="320.7" y2="148.97" class="tk"/>
<line x1="542.5" y1="148.97" x2="540.3" y2="148.97" class="tk"/>
<line x1="318.5" y1="125.86" x2="320.7" y2="125.86" class="tk"/>
<line x1="542.5" y1="125.86" x2="540.3" y2="125.86" class="tk"/>
<line x1="318.5" y1="102.75" x2="320.7" y2="102.75" class="tk"/>
<line x1="542.5" y1="102.75" x2="540.3" y2="102.75" class="tk"/>
<line x1="318.5" y1="79.64" x2="320.7" y2="79.64" class="tk"/>
<line x1="542.5" y1="79.64" x2="540.3" y2="79.64" class="tk"/>
<line x1="318.5" y1="56.53" x2="320.7" y2="56.53" class="tk"/>
<line x1="542.5" y1="56.53" x2="540.3" y2="56.53" class="tk"/>
<line x1="318.5" y1="33.41" x2="320.7" y2="33.41" class="tk"/>
<line x1="542.5" y1="33.41" x2="540.3" y2="33.41" class="tk"/>

<line x1="78.34" y1="260.9" x2="78.34" y2="445.5" class="g"/>
<line x1="124.28" y1="260.9" x2="124.28" y2="445.5" class="g"/>
<line x1="170.22" y1="260.9" x2="170.22" y2="445.5" class="g"/>
<line x1="216.16" y1="260.9" x2="216.16" y2="445.5" class="g"/>
<line x1="32.4" y1="408.58" x2="262.1" y2="408.58" class="g"/>
<line x1="32.4" y1="371.66" x2="262.1" y2="371.66" class="g"/>
<line x1="32.4" y1="334.74" x2="262.1" y2="334.74" class="g"/>
<line x1="32.4" y1="297.82" x2="262.1" y2="297.82" class="g"/>
<path d="M32.40,364.28 L32.55,364.03 L32.76,363.67 L33.01,363.26 L33.28,362.83 L33.58,362.41 L33.87,362.06 L34.18,361.70 L34.53,361.27 L34.89,360.86 L35.25,360.56 L35.59,360.44 L35.89,360.58 L36.15,361.00 L36.36,361.62 L36.56,362.43 L36.76,363.40 L36.96,364.52 L37.18,365.75 L37.42,367.13 L37.67,368.65 L37.93,370.32 L38.20,372.12 L38.47,374.05 L38.74,376.09 L39.02,378.40 L39.32,381.01 L39.62,383.75 L39.92,386.43 L40.21,388.86 L40.49,390.86 L40.75,392.58 L40.99,394.19 L41.23,395.57 L41.47,396.55 L41.71,396.99 L41.96,396.77 L42.21,395.60 L42.48,393.57 L42.75,391.00 L43.01,388.23 L43.27,385.61 L43.52,383.47 L43.75,381.66 L43.97,379.86 L44.19,378.21 L44.40,376.83 L44.60,375.83 L44.80,375.35 L45.00,375.32 L45.18,375.63 L45.37,376.32 L45.55,377.46 L45.72,379.09 L45.91,381.26 L46.08,384.27 L46.26,388.15 L46.43,392.52 L46.61,397.01 L46.80,401.26 L47.01,404.89 L47.24,407.87 L47.48,410.49 L47.73,412.87 L47.99,415.12 L48.27,417.34 L48.57,419.66 L48.89,422.31 L49.24,425.26 L49.61,428.19 L49.98,430.79 L50.34,432.72 L50.68,433.69 L51.01,433.44 L51.31,432.21 L51.61,430.32 L51.91,428.11 L52.21,425.92 L52.52,424.09 L52.84,422.66 L53.16,421.38 L53.49,420.12 L53.82,418.75 L54.14,417.16 L54.45,415.23 L54.75,412.98 L55.05,410.52 L55.34,407.84 L55.62,404.92 L55.91,401.72 L56.20,398.24 L56.49,394.30 L56.79,389.87 L57.08,385.18 L57.37,380.44 L57.66,375.86 L57.94,371.66 L58.22,367.82 L58.50,364.17 L58.77,360.68 L59.03,357.33 L59.28,354.11 L59.50,350.98 L59.69,348.10 L59.84,345.49 L59.97,343.00 L60.11,340.48 L60.28,337.78 L60.52,334.74 L60.82,331.20 L61.18,327.25 L61.57,323.11 L61.98,319.01 L62.37,315.19 L62.72,311.85 L63.05,308.97 L63.36,306.35 L63.66,304.00 L63.95,301.92 L64.22,300.11 L64.47,298.56 L64.68,297.29 L64.86,296.29 L65.03,295.56 L65.19,295.09 L65.37,294.86 L65.57,294.87 L65.80,295.08 L66.05,295.50 L66.32,296.16 L66.59,297.11 L66.86,298.39 L67.13,300.04 L67.40,302.21 L67.68,304.90 L67.96,307.93 L68.24,311.08 L68.51,314.18 L68.78,317.02 L69.04,319.77 L69.29,322.62 L69.53,325.42 L69.78,327.99 L70.05,330.16 L70.35,331.79 L70.68,332.74 L71.05,333.13 L71.44,333.12 L71.83,332.91 L72.20,332.65 L72.55,332.52 L72.87,332.62 L73.16,332.83 L73.44,332.99 L73.71,332.96 L74.00,332.61 L74.30,331.79 L74.63,330.21 L74.98,327.93 L75.34,325.33 L75.69,322.76 L76.02,320.61 L76.32,319.23 L76.57,318.59 L76.80,318.39 L77.00,318.59 L77.19,319.18 L77.39,320.14 L77.60,321.45 L77.84,323.31 L78.08,325.77 L78.32,328.60 L78.57,331.57 L78.82,334.43 L79.08,336.96 L79.33,339.27 L79.58,341.60 L79.84,343.83 L80.10,345.84 L80.36,347.53 L80.64,348.77 L80.92,349.40 L81.23,349.48 L81.54,349.23 L81.84,348.88 L82.13,348.65 L82.38,348.77 L82.59,349.13 L82.76,349.54 L82.91,350.06 L83.07,350.79 L83.25,351.81 L83.49,353.20 L83.78,355.14 L84.11,357.60 L84.47,360.35 L84.85,363.15 L85.23,365.77 L85.60,367.97 L85.97,369.77 L86.35,371.36 L86.74,372.77 L87.12,374.01 L87.48,375.11 L87.80,376.09 L88.09,377.03 L88.33,377.92 L88.56,378.67 L88.78,379.18 L89.02,379.34 L89.27,379.04 L89.55,378.17 L89.85,376.77 L90.15,375.03 L90.46,373.11 L90.78,371.19 L91.11,369.44 L91.45,367.81 L91.78,366.14 L92.13,364.46 L92.49,362.83 L92.89,361.27 L93.32,359.85 L93.81,358.41 L94.35,356.92 L94.92,355.51 L95.50,354.32 L96.04,353.50 L96.53,353.20 L96.96,353.56 L97.36,354.49 L97.73,355.78 L98.07,357.25 L98.41,358.67 L98.74,359.85 L99.05,360.95 L99.35,362.17 L99.63,363.35 L99.90,364.33 L100.19,364.94 L100.48,365.01 L100.80,364.37 L101.12,363.10 L101.45,361.46 L101.78,359.71 L102.10,358.10 L102.41,356.89 L102.71,356.00 L102.99,355.20 L103.27,354.54 L103.55,354.08 L103.84,353.86 L104.16,353.94 L104.50,354.40 L104.88,355.22 L105.26,356.29 L105.65,357.49 L106.02,358.72 L106.36,359.85 L106.68,360.93 L106.96,362.06 L107.24,363.21 L107.51,364.36 L107.80,365.46 L108.11,366.49 L108.45,367.56 L108.81,368.71 L109.18,369.81 L109.56,370.76 L109.94,371.41 L110.31,371.66 L110.68,371.40 L111.04,370.70 L111.39,369.72 L111.76,368.60 L112.13,367.47 L112.52,366.49 L112.93,365.52 L113.36,364.41 L113.81,363.31 L114.25,362.33 L114.68,361.63 L115.09,361.32 L115.48,361.41 L115.85,361.79 L116.22,362.43 L116.58,363.32 L116.93,364.43 L117.30,365.75 L117.67,367.37 L118.04,369.31 L118.41,371.48 L118.77,373.77 L119.14,376.08 L119.50,378.31 L119.86,380.50 L120.21,382.76 L120.56,385.04 L120.91,387.30 L121.26,389.50 L121.62,391.60 L121.98,393.56 L122.34,395.43 L122.71,397.23 L123.08,399.01 L123.45,400.81 L123.82,402.67 L124.19,404.76 L124.57,407.08 L124.95,409.41 L125.32,411.56 L125.68,413.32 L126.03,414.49 L126.35,415.09 L126.65,415.31 L126.94,415.13 L127.22,414.57 L127.50,413.62 L127.77,412.27 L128.03,410.37 L128.28,407.87 L128.52,404.98 L128.77,401.91 L129.04,398.85 L129.33,396.03 L129.67,393.37 L130.03,390.69 L130.41,388.04 L130.79,385.44 L131.17,382.93 L131.54,380.52 L131.89,378.15 L132.23,375.76 L132.57,373.46 L132.91,371.33 L133.24,369.47 L133.56,367.97 L133.88,366.81 L134.20,365.92 L134.51,365.29 L134.82,364.93 L135.11,364.84 L135.40,365.01 L135.66,365.44 L135.91,366.11 L136.15,367.04 L136.38,368.27 L136.62,369.80 L136.87,371.66 L137.12,374.14 L137.39,377.29 L137.65,380.75 L137.92,384.16 L138.18,387.15 L138.43,389.38 L138.67,390.87 L138.90,391.92 L139.12,392.57 L139.35,392.83 L139.57,392.74 L139.81,392.34 L140.04,391.57 L140.26,390.42 L140.49,388.92 L140.73,387.11 L140.99,385.04 L141.28,382.74 L141.61,380.03 L141.98,376.86 L142.36,373.41 L142.75,369.91 L143.13,366.55 L143.48,363.54 L143.81,360.87 L144.13,358.40 L144.43,356.06 L144.72,353.83 L144.99,351.66 L145.23,349.51 L145.43,347.34 L145.60,345.19 L145.74,343.09 L145.88,341.11 L146.04,339.30 L146.24,337.69 L146.49,336.26 L146.77,334.96 L147.07,333.82 L147.37,332.88 L147.65,332.19 L147.89,331.79 L148.08,331.59 L148.24,331.57 L148.38,331.79 L148.51,332.33 L148.65,333.29 L148.81,334.74 L149.00,336.91 L149.21,339.77 L149.42,343.05 L149.64,346.45 L149.87,349.68 L150.10,352.46 L150.32,354.99 L150.55,357.52 L150.78,359.89 L151.02,361.92 L151.28,363.44 L151.57,364.28 L151.90,364.19 L152.26,363.29 L152.65,361.88 L153.04,360.26 L153.42,358.74 L153.77,357.63 L154.11,356.81 L154.43,356.02 L154.74,355.32 L155.04,354.81 L155.33,354.57 L155.61,354.68 L155.88,355.19 L156.14,356.04 L156.38,357.17 L156.62,358.48 L156.85,359.89 L157.08,361.32 L157.31,362.88 L157.53,364.66 L157.75,366.54 L157.96,368.41 L158.17,370.15 L158.37,371.66 L158.56,373.13 L158.75,374.70 L158.93,376.14 L159.11,377.24 L159.29,377.79 L159.47,377.57 L159.66,376.37 L159.84,374.34 L160.03,371.75 L160.22,368.90 L160.40,366.06 L160.57,363.54 L160.74,361.46 L160.89,359.63 L161.04,357.81 L161.19,355.80 L161.34,353.35 L161.49,350.25 L161.65,346.41 L161.80,342.01 L161.96,337.19 L162.12,332.06 L162.30,326.77 L162.50,321.45 L162.73,315.84 L162.98,309.77 L163.24,303.54 L163.51,297.44 L163.79,291.74 L164.06,286.74 L164.34,282.40 L164.63,278.46 L164.93,274.93 L165.22,271.81 L165.52,269.10 L165.81,266.81 L166.10,264.98 L166.40,263.63 L166.69,262.70 L166.99,262.10 L167.28,261.77 L167.56,261.64 L167.83,261.63 L168.09,261.80 L168.35,262.24 L168.61,263.03 L168.86,264.28 L169.12,266.07 L169.37,268.41 L169.62,271.24 L169.87,274.51 L170.11,278.21 L170.35,282.30 L170.59,286.74 L170.81,291.76 L171.04,297.41 L171.25,303.45 L171.47,309.63 L171.67,315.72 L171.87,321.45 L172.06,326.97 L172.24,332.50 L172.41,337.92 L172.58,343.14 L172.77,348.02 L172.98,352.46 L173.22,356.34 L173.48,359.71 L173.76,362.75 L174.03,365.64 L174.30,368.55 L174.54,371.66 L174.74,375.09 L174.92,378.72 L175.09,382.37 L175.26,385.85 L175.44,388.99 L175.64,391.60 L175.87,393.60 L176.12,395.12 L176.38,396.30 L176.65,397.26 L176.93,398.11 L177.20,398.98 L177.48,399.84 L177.77,400.59 L178.06,401.24 L178.36,401.80 L178.66,402.27 L178.95,402.67 L179.24,402.89 L179.52,402.89 L179.80,402.81 L180.09,402.78 L180.38,402.94 L180.69,403.41 L181.03,404.46 L181.39,406.04 L181.76,407.80 L182.13,409.40 L182.48,410.51 L182.81,410.80 L183.10,410.18 L183.37,408.94 L183.63,407.20 L183.88,405.11 L184.12,402.81 L184.37,400.46 L184.62,397.97 L184.86,395.23 L185.09,392.29 L185.33,389.19 L185.58,385.99 L185.84,382.74 L186.11,379.24 L186.38,375.43 L186.67,371.52 L186.96,367.72 L187.26,364.25 L187.59,361.32 L187.93,358.82 L188.30,356.54 L188.68,354.58 L189.07,353.06 L189.44,352.08 L189.79,351.72 L190.12,352.15 L190.44,353.31 L190.76,355.00 L191.06,357.03 L191.35,359.20 L191.63,361.32 L191.89,363.58 L192.12,366.16 L192.34,368.89 L192.57,371.58 L192.81,374.04 L193.10,376.09 L193.43,377.74 L193.80,379.15 L194.18,380.34 L194.58,381.31 L194.95,382.11 L195.30,382.74 L195.62,383.09 L195.93,383.15 L196.22,383.01 L196.50,382.82 L196.78,382.68 L197.05,382.74 L197.31,383.13 L197.55,383.80 L197.78,384.54 L198.02,385.12 L198.26,385.33 L198.52,384.95 L198.79,383.92 L199.06,382.38 L199.35,380.47 L199.64,378.33 L199.94,376.09 L200.26,373.88 L200.61,371.53 L200.97,368.93 L201.34,366.21 L201.72,363.56 L202.10,361.14 L202.47,359.11 L202.84,357.43 L203.22,355.96 L203.59,354.72 L203.96,353.72 L204.32,352.96 L204.67,352.46 L205.02,352.22 L205.36,352.22 L205.70,352.46 L206.02,352.95 L206.32,353.69 L206.60,354.68 L206.86,356.05 L207.09,357.85 L207.30,359.89 L207.50,362.01 L207.69,364.02 L207.89,365.75 L208.09,367.39 L208.27,369.12 L208.45,370.74 L208.63,372.07 L208.81,372.93 L208.99,373.14 L209.17,372.56 L209.35,371.33 L209.52,369.63 L209.70,367.64 L209.89,365.55 L210.10,363.54 L210.33,361.59 L210.59,359.54 L210.87,357.40 L211.13,355.14 L211.37,352.76 L211.57,350.25 L211.70,347.48 L211.78,344.45 L211.83,341.29 L211.89,338.16 L211.97,335.19 L212.12,332.52 L212.33,330.10 L212.58,327.79 L212.86,325.65 L213.17,323.72 L213.47,322.06 L213.77,320.71 L214.06,319.73 L214.36,319.07 L214.66,318.68 L214.96,318.50 L215.28,318.45 L215.61,318.50 L215.95,318.65 L216.31,318.97 L216.68,319.44 L217.05,320.03 L217.43,320.70 L217.81,321.45 L218.21,322.40 L218.63,323.61 L219.06,324.91 L219.47,326.14 L219.86,327.13 L220.20,327.73 L220.49,327.80 L220.74,327.45 L220.95,326.87 L221.16,326.23 L221.36,325.72 L221.58,325.51 L221.83,325.65 L222.09,326.00 L222.36,326.48 L222.60,326.99 L222.81,327.43 L222.96,327.73" class="d" style="stroke:#35a3dd;stroke-width:1.15"/>
<rect x="32.4" y="260.9" width="229.70" height="184.60" class="bx"/>
<line x1="78.34" y1="445.5" x2="78.34" y2="443.3" class="tk"/>
<line x1="78.34" y1="260.9" x2="78.34" y2="263.09999999999997" class="tk"/>
<line x1="124.28" y1="445.5" x2="124.28" y2="443.3" class="tk"/>
<line x1="124.28" y1="260.9" x2="124.28" y2="263.09999999999997" class="tk"/>
<line x1="170.22" y1="445.5" x2="170.22" y2="443.3" class="tk"/>
<line x1="170.22" y1="260.9" x2="170.22" y2="263.09999999999997" class="tk"/>
<line x1="216.16" y1="445.5" x2="216.16" y2="443.3" class="tk"/>
<line x1="216.16" y1="260.9" x2="216.16" y2="263.09999999999997" class="tk"/>
<line x1="32.4" y1="408.58" x2="34.6" y2="408.58" class="tk"/>
<line x1="262.1" y1="408.58" x2="259.90000000000003" y2="408.58" class="tk"/>
<line x1="32.4" y1="371.66" x2="34.6" y2="371.66" class="tk"/>
<line x1="262.1" y1="371.66" x2="259.90000000000003" y2="371.66" class="tk"/>
<line x1="32.4" y1="334.74" x2="34.6" y2="334.74" class="tk"/>
<line x1="262.1" y1="334.74" x2="259.90000000000003" y2="334.74" class="tk"/>
<line x1="32.4" y1="297.82" x2="34.6" y2="297.82" class="tk"/>
<line x1="262.1" y1="297.82" x2="259.90000000000003" y2="297.82" class="tk"/>

<line x1="365.72" y1="254.4" x2="365.72" y2="445.6" class="g"/>
<line x1="409.94" y1="254.4" x2="409.94" y2="445.6" class="g"/>
<line x1="454.16" y1="254.4" x2="454.16" y2="445.6" class="g"/>
<line x1="498.38" y1="254.4" x2="498.38" y2="445.6" class="g"/>
<line x1="321.5" y1="429.67" x2="542.6" y2="429.67" class="g"/>
<line x1="321.5" y1="389.83" x2="542.6" y2="389.83" class="g"/>
<line x1="321.5" y1="350.00" x2="542.6" y2="350.00" class="g"/>
<line x1="321.5" y1="310.17" x2="542.6" y2="310.17" class="g"/>
<line x1="321.5" y1="270.33" x2="542.6" y2="270.33" class="g"/>
<path d="M321.50,343.79 L321.54,343.48 L321.57,342.57 L321.61,341.07 L321.65,339.00 L321.69,336.41 L321.73,333.33 L321.76,329.82 L321.80,325.94 L321.84,321.75 L321.88,317.33 L321.91,312.75 L321.95,308.10 L321.99,303.44 L322.02,298.86 L322.06,294.44 L322.10,290.25 L322.14,286.37 L322.18,282.86 L322.21,279.78 L322.25,277.19 L322.29,275.12 L322.32,273.62 L322.36,272.71 L322.40,272.40 L322.49,273.07 L322.58,275.05 L322.68,278.32 L322.77,282.82 L322.86,288.48 L322.95,295.18 L323.05,302.83 L323.14,311.29 L323.23,320.41 L323.32,330.05 L323.42,340.03 L323.51,350.18 L323.60,360.33 L323.69,370.31 L323.79,379.94 L323.88,389.06 L323.97,397.52 L324.06,405.17 L324.16,411.88 L324.25,417.53 L324.34,422.03 L324.43,425.30 L324.52,427.28 L324.62,427.95 L324.71,427.28 L324.80,425.30 L324.89,422.03 L324.99,417.53 L325.08,411.88 L325.17,405.17 L325.26,397.52 L325.36,389.06 L325.45,379.94 L325.54,370.31 L325.63,360.33 L325.73,350.18 L325.82,340.03 L325.91,330.05 L326.00,320.41 L326.10,311.29 L326.19,302.83 L326.28,295.18 L326.37,288.48 L326.46,282.82 L326.56,278.32 L326.65,275.05 L326.74,273.07 L326.83,272.40 L326.93,273.07 L327.02,275.05 L327.11,278.31 L327.20,282.80 L327.30,288.43 L327.39,295.12 L327.48,302.75 L327.57,311.19 L327.67,320.29 L327.76,329.89 L327.85,339.84 L327.94,349.97 L328.04,360.09 L328.13,370.04 L328.22,379.65 L328.31,388.75 L328.40,397.19 L328.50,404.81 L328.59,411.50 L328.68,417.14 L328.77,421.63 L328.87,424.89 L328.96,426.87 L329.05,427.53 L329.14,426.87 L329.24,424.89 L329.33,421.63 L329.42,417.14 L329.51,411.50 L329.61,404.81 L329.70,397.19 L329.79,388.75 L329.88,379.65 L329.97,370.04 L330.07,360.09 L330.16,349.97 L330.25,339.84 L330.34,329.89 L330.44,320.29 L330.53,311.19 L330.62,302.75 L330.71,295.12 L330.81,288.43 L330.90,282.80 L330.99,278.31 L331.08,275.05 L331.18,273.07 L331.27,272.40 L331.36,273.07 L331.45,275.05 L331.55,278.31 L331.64,282.81 L331.73,288.45 L331.82,295.14 L331.91,302.78 L332.01,311.22 L332.10,320.33 L332.19,329.94 L332.28,339.90 L332.38,350.04 L332.47,360.17 L332.56,370.13 L332.65,379.74 L332.75,388.85 L332.84,397.29 L332.93,404.93 L333.02,411.62 L333.12,417.27 L333.21,421.76 L333.30,425.02 L333.39,427.00 L333.49,427.67 L333.58,427.00 L333.67,425.02 L333.76,421.76 L333.85,417.28 L333.95,411.64 L334.04,404.95 L334.13,397.32 L334.22,388.89 L334.32,379.79 L334.41,370.19 L334.50,360.24 L334.59,350.11 L334.69,339.99 L334.78,330.04 L334.87,320.44 L334.96,311.34 L335.06,302.90 L335.15,295.28 L335.24,288.59 L335.33,282.95 L335.43,278.47 L335.52,275.21 L335.61,273.23 L335.70,272.56 L335.79,273.23 L335.89,275.23 L335.98,278.51 L336.07,283.03 L336.16,288.71 L336.26,295.45 L336.35,303.13 L336.44,311.63 L336.53,320.80 L336.63,330.47 L336.72,340.50 L336.81,350.70 L336.90,360.89 L337.00,370.92 L337.09,380.60 L337.18,389.76 L337.27,398.26 L337.37,405.94 L337.46,412.68 L337.55,418.36 L337.64,422.88 L337.73,426.16 L337.83,428.16 L337.92,428.83 L338.01,428.16 L338.10,426.16 L338.20,422.88 L338.29,418.36 L338.38,412.68 L338.47,405.94 L338.57,398.26 L338.66,389.76 L338.75,380.60 L338.84,370.92 L338.94,360.89 L339.03,350.70 L339.12,340.50 L339.21,330.47 L339.31,320.80 L339.40,311.63 L339.49,303.13 L339.58,295.45 L339.67,288.71 L339.77,283.03 L339.86,278.51 L339.95,275.23 L340.04,273.23 L340.14,272.56 L340.23,273.23 L340.32,275.20 L340.41,278.46 L340.51,282.94 L340.60,288.57 L340.69,295.25 L340.78,302.87 L340.88,311.30 L340.97,320.39 L341.06,329.98 L341.15,339.92 L341.25,350.03 L341.34,360.14 L341.43,370.08 L341.52,379.68 L341.61,388.77 L341.71,397.19 L341.80,404.81 L341.89,411.49 L341.98,417.12 L342.08,421.60 L342.17,424.86 L342.26,426.84 L342.35,427.50 L342.45,426.85 L342.54,424.89 L342.63,421.68 L342.72,417.25 L342.82,411.70 L342.91,405.10 L343.00,397.58 L343.09,389.26 L343.19,380.29 L343.28,370.82 L343.37,361.01 L343.46,351.03 L343.55,341.05 L343.65,331.24 L343.74,321.76 L343.83,312.79 L343.92,304.47 L344.02,296.95 L344.11,290.36 L344.20,284.80 L344.29,280.38 L344.39,277.16 L344.48,275.21 L344.57,274.56 L344.66,275.21 L344.76,277.17 L344.85,280.39 L344.94,284.82 L345.03,290.39 L345.12,297.00 L345.22,304.54 L345.31,312.87 L345.40,321.86 L345.49,331.35 L345.59,341.19 L345.68,351.19 L345.77,361.19 L345.86,371.02 L345.96,380.51 L346.05,389.50 L346.14,397.84 L346.23,405.37 L346.33,411.98 L346.42,417.55 L346.51,421.99 L346.60,425.21 L346.70,427.16 L346.79,427.82 L346.88,427.16 L346.97,425.19 L347.06,421.95 L347.16,417.48 L347.25,411.88 L347.34,405.22 L347.43,397.64 L347.53,389.24 L347.62,380.19 L347.71,370.64 L347.80,360.74 L347.90,350.67 L347.99,340.60 L348.08,330.70 L348.17,321.15 L348.27,312.09 L348.36,303.70 L348.45,296.12 L348.54,289.46 L348.64,283.86 L348.73,279.39 L348.82,276.15 L348.91,274.18 L349.00,273.52 L349.10,274.18 L349.19,276.16 L349.28,279.41 L349.37,283.89 L349.47,289.52 L349.56,296.20 L349.65,303.81 L349.74,312.23 L349.84,321.32 L349.93,330.91 L350.02,340.84 L350.11,350.95 L350.21,361.05 L350.30,370.99 L350.39,380.58 L350.48,389.66 L350.58,398.08 L350.67,405.70 L350.76,412.37 L350.85,418.00 L350.94,422.48 L351.04,425.74 L351.13,427.71 L351.22,428.37 L351.31,427.71 L351.41,425.74 L351.50,422.48 L351.59,418.00 L351.68,412.37 L351.78,405.70 L351.87,398.08 L351.96,389.66 L352.05,380.58 L352.15,370.99 L352.24,361.05 L352.33,350.95 L352.42,340.84 L352.52,330.91 L352.61,321.32 L352.70,312.23 L352.79,303.81 L352.88,296.20 L352.98,289.52 L353.07,283.89 L353.16,279.41 L353.25,276.16 L353.35,274.18 L353.44,273.52 L353.53,274.18 L353.62,276.17 L353.72,279.43 L353.81,283.93 L353.90,289.57 L353.99,296.27 L354.09,303.91 L354.18,312.36 L354.27,321.48 L354.36,331.10 L354.46,341.07 L354.55,351.21 L354.64,361.35 L354.73,371.31 L354.82,380.93 L354.92,390.05 L355.01,398.50 L355.10,406.14 L355.19,412.84 L355.29,418.48 L355.38,422.98 L355.47,426.24 L355.56,428.23 L355.66,428.89 L355.75,428.23 L355.84,426.25 L355.93,422.98 L356.03,418.49 L356.12,412.85 L356.21,406.16 L356.30,398.53 L356.40,390.09 L356.49,380.98 L356.58,371.37 L356.67,361.41 L356.76,351.28 L356.86,341.16 L356.95,331.20 L357.04,321.59 L357.13,312.48 L357.23,304.04 L357.32,296.41 L357.41,289.72 L357.50,284.08 L357.60,279.59 L357.69,276.32 L357.78,274.34 L357.87,273.68 L357.97,274.34 L358.06,276.30 L358.15,279.53 L358.24,283.97 L358.34,289.55 L358.43,296.18 L358.52,303.73 L358.61,312.08 L358.70,321.09 L358.80,330.61 L358.89,340.46 L358.98,350.49 L359.07,360.51 L359.17,370.37 L359.26,379.88 L359.35,388.89 L359.44,397.24 L359.54,404.80 L359.63,411.42 L359.72,417.00 L359.81,421.45 L359.91,424.68 L360.00,426.64 L360.09,427.29 L360.18,426.64 L360.27,424.68 L360.37,421.46 L360.46,417.03 L360.55,411.46 L360.64,404.84 L360.74,397.31 L360.83,388.97 L360.92,379.98 L361.01,370.48 L361.11,360.65 L361.20,350.65 L361.29,340.64 L361.38,330.81 L361.48,321.31 L361.57,312.32 L361.66,303.99 L361.75,296.45 L361.85,289.84 L361.94,284.27 L362.03,279.83 L362.12,276.61 L362.21,274.65 L362.31,274.00 L362.40,274.66 L362.49,276.62 L362.58,279.86 L362.68,284.32 L362.77,289.91 L362.86,296.56 L362.95,304.13 L363.05,312.51 L363.14,321.55 L363.23,331.09 L363.32,340.97 L363.42,351.02 L363.51,361.08 L363.60,370.96 L363.69,380.50 L363.79,389.53 L363.88,397.91 L363.97,405.49 L364.06,412.13 L364.15,417.73 L364.25,422.18 L364.34,425.42 L364.43,427.39 L364.52,428.05 L364.62,427.39 L364.71,425.43 L364.80,422.20 L364.89,417.75 L364.99,412.17 L365.08,405.54 L365.17,397.99 L365.26,389.63 L365.36,380.62 L365.45,371.10 L365.54,361.25 L365.63,351.22 L365.73,341.19 L365.82,331.34 L365.91,321.82 L366.00,312.81 L366.09,304.45 L366.19,296.90 L366.28,290.27 L366.37,284.69 L366.46,280.24 L366.56,277.01 L366.65,275.05 L366.74,274.40 L366.83,275.05 L366.93,277.01 L367.02,280.23 L367.11,284.66 L367.20,290.22 L367.30,296.83 L367.39,304.36 L367.48,312.69 L367.57,321.68 L367.67,331.16 L367.76,340.99 L367.85,350.99 L367.94,360.98 L368.03,370.81 L368.13,380.30 L368.22,389.28 L368.31,397.61 L368.40,405.14 L368.50,411.75 L368.59,417.31 L368.68,421.75 L368.77,424.97 L368.87,426.92 L368.96,427.58 L369.05,426.92 L369.14,424.98 L369.24,421.79 L369.33,417.39 L369.42,411.86 L369.51,405.31 L369.61,397.83 L369.70,389.56 L369.79,380.64 L369.88,371.22 L369.97,361.47 L370.07,351.54 L370.16,341.62 L370.25,331.86 L370.34,322.45 L370.44,313.53 L370.53,305.26 L370.62,297.78 L370.71,291.22 L370.81,285.70 L370.90,281.30 L370.99,278.10 L371.08,276.16 L371.18,275.51 L371.27,276.16 L371.36,278.10 L371.45,281.29 L371.55,285.68 L371.64,291.19 L371.73,297.74 L371.82,305.20 L371.91,313.45 L372.01,322.35 L372.10,331.75 L372.19,341.49 L372.28,351.39 L372.38,361.29 L372.47,371.03 L372.56,380.43 L372.65,389.33 L372.75,397.58 L372.84,405.04 L372.93,411.59 L373.02,417.10 L373.12,421.49 L373.21,424.68 L373.30,426.62 L373.39,427.27 L373.49,426.62 L373.58,424.68 L373.67,421.49 L373.76,417.10 L373.85,411.59 L373.95,405.04 L374.04,397.58 L374.13,389.33 L374.22,380.43 L374.32,371.03 L374.41,361.29 L374.50,351.39 L374.59,341.49 L374.69,331.75 L374.78,322.35 L374.87,313.45 L374.96,305.20 L375.06,297.74 L375.15,291.19 L375.24,285.68 L375.33,281.29 L375.42,278.10 L375.52,276.16 L375.61,275.51 L375.70,276.16 L375.79,278.10 L375.89,281.30 L375.98,285.70 L376.07,291.22 L376.16,297.78 L376.26,305.26 L376.35,313.53 L376.44,322.45 L376.53,331.87 L376.63,341.62 L376.72,351.55 L376.81,361.47 L376.90,371.23 L377.00,380.65 L377.09,389.57 L377.18,397.84 L377.27,405.31 L377.36,411.87 L377.46,417.40 L377.55,421.80 L377.64,424.99 L377.73,426.93 L377.83,427.58 L377.92,426.93 L378.01,424.98 L378.10,421.77 L378.20,417.35 L378.29,411.80 L378.38,405.21 L378.47,397.69 L378.57,389.38 L378.66,380.42 L378.75,370.95 L378.84,361.15 L378.94,351.18 L379.03,341.21 L379.12,331.41 L379.21,321.94 L379.30,312.98 L379.40,304.67 L379.49,297.15 L379.58,290.56 L379.67,285.01 L379.77,280.59 L379.86,277.38 L379.95,275.43 L380.04,274.78 L380.14,275.43 L380.23,277.37 L380.32,280.58 L380.41,284.99 L380.51,290.52 L380.60,297.10 L380.69,304.59 L380.78,312.88 L380.88,321.82 L380.97,331.26 L381.06,341.04 L381.15,350.98 L381.24,360.93 L381.34,370.71 L381.43,380.15 L381.52,389.09 L381.61,397.37 L381.71,404.87 L381.80,411.44 L381.89,416.98 L381.98,421.39 L382.08,424.59 L382.17,426.54 L382.26,427.19 L382.35,426.53 L382.45,424.58 L382.54,421.37 L382.63,416.94 L382.72,411.39 L382.82,404.79 L382.91,397.27 L383.00,388.95 L383.09,379.98 L383.18,370.51 L383.28,360.70 L383.37,350.71 L383.46,340.73 L383.55,330.92 L383.65,321.45 L383.74,312.48 L383.83,304.16 L383.92,296.64 L384.02,290.04 L384.11,284.48 L384.20,280.06 L384.29,276.84 L384.39,274.89 L384.48,274.24 L384.57,274.90 L384.66,276.86 L384.76,280.10 L384.85,284.55 L384.94,290.15 L385.03,296.79 L385.12,304.36 L385.22,312.73 L385.31,321.76 L385.40,331.29 L385.49,341.17 L385.59,351.22 L385.68,361.26 L385.77,371.14 L385.86,380.67 L385.96,389.71 L386.05,398.08 L386.14,405.65 L386.23,412.29 L386.33,417.88 L386.42,422.33 L386.51,425.57 L386.60,427.54 L386.70,428.19 L386.79,427.54 L386.88,425.58 L386.97,422.35 L387.06,417.90 L387.16,412.32 L387.25,405.69 L387.34,398.14 L387.43,389.78 L387.53,380.77 L387.62,371.25 L387.71,361.40 L387.80,351.37 L387.90,341.34 L387.99,331.49 L388.08,321.97 L388.17,312.96 L388.27,304.60 L388.36,297.05 L388.45,290.42 L388.54,284.84 L388.64,280.39 L388.73,277.16 L388.82,275.20 L388.91,274.54 L389.00,275.20 L389.10,277.15 L389.19,280.36 L389.28,284.79 L389.37,290.34 L389.47,296.93 L389.56,304.45 L389.65,312.76 L389.74,321.73 L389.84,331.20 L389.93,341.00 L390.02,350.98 L390.11,360.96 L390.21,370.76 L390.30,380.23 L390.39,389.20 L390.48,397.51 L390.57,405.03 L390.67,411.62 L390.76,417.18 L390.85,421.60 L390.94,424.81 L391.04,426.76 L391.13,427.42 L391.22,426.76 L391.31,424.81 L391.41,421.58 L391.50,417.15 L391.59,411.58 L391.68,404.97 L391.78,397.43 L391.87,389.10 L391.96,380.11 L392.05,370.61 L392.15,360.78 L392.24,350.78 L392.33,340.77 L392.42,330.94 L392.51,321.45 L392.61,312.46 L392.70,304.12 L392.79,296.58 L392.88,289.97 L392.98,284.40 L393.07,279.97 L393.16,276.75 L393.25,274.79 L393.35,274.13 L393.44,274.79 L393.53,276.76 L393.62,279.99 L393.72,284.45 L393.81,290.04 L393.90,296.68 L393.99,304.25 L394.09,312.63 L394.18,321.66 L394.27,331.19 L394.36,341.07 L394.45,351.12 L394.55,361.17 L394.64,371.04 L394.73,380.58 L394.82,389.61 L394.92,397.98 L395.01,405.55 L395.10,412.19 L395.19,417.79 L395.29,422.24 L395.38,425.48 L395.47,427.44 L395.56,428.10 L395.66,427.44 L395.75,425.48 L395.84,422.24 L395.93,417.78 L396.03,412.19 L396.12,405.55 L396.21,397.97 L396.30,389.60 L396.39,380.57 L396.49,371.03 L396.58,361.15 L396.67,351.10 L396.76,341.05 L396.86,331.17 L396.95,321.63 L397.04,312.60 L397.13,304.22 L397.23,296.65 L397.32,290.01 L397.41,284.41 L397.50,279.96 L397.60,276.72 L397.69,274.76 L397.78,274.10 L397.87,274.75 L397.97,276.70 L398.06,279.92 L398.15,284.35 L398.24,289.91 L398.33,296.51 L398.43,304.04 L398.52,312.36 L398.61,321.34 L398.70,330.82 L398.80,340.64 L398.89,350.63 L398.98,360.62 L399.07,370.44 L399.17,379.92 L399.26,388.89 L399.35,397.22 L399.44,404.75 L399.54,411.35 L399.63,416.91 L399.72,421.34 L399.81,424.55 L399.91,426.51 L400.00,427.16 L400.09,426.51 L400.18,424.57 L400.27,421.37 L400.37,416.97 L400.46,411.45 L400.55,404.89 L400.64,397.41 L400.74,389.14 L400.83,380.22 L400.92,370.80 L401.01,361.04 L401.11,351.12 L401.20,341.19 L401.29,331.44 L401.38,322.02 L401.48,313.10 L401.57,304.83 L401.66,297.35 L401.75,290.79 L401.85,285.27 L401.94,280.87 L402.03,277.67 L402.12,275.73 L402.21,275.08 L402.31,275.73 L402.40,277.67 L402.49,280.87 L402.58,285.27 L402.68,290.80 L402.77,297.37 L402.86,304.85 L402.95,313.13 L403.05,322.05 L403.14,331.48 L403.23,341.24 L403.32,351.17 L403.42,361.11 L403.51,370.87 L403.60,380.29 L403.69,389.22 L403.79,397.50 L403.88,404.98 L403.97,411.54 L404.06,417.07 L404.15,421.48 L404.25,424.68 L404.34,426.62 L404.43,427.27 L404.52,426.62 L404.62,424.68 L404.71,421.48 L404.80,417.08 L404.89,411.55 L404.99,404.99 L405.08,397.52 L405.17,389.24 L405.26,380.32 L405.36,370.90 L405.45,361.15 L405.54,351.22 L405.63,341.29 L405.73,331.54 L405.82,322.12 L405.91,313.19 L406.00,304.92 L406.09,297.44 L406.19,290.89 L406.28,285.36 L406.37,280.96 L406.46,277.76 L406.56,275.82 L406.65,275.17 L406.74,275.83 L406.83,277.79 L406.93,281.02 L407.02,285.46 L407.11,291.04 L407.20,297.66 L407.30,305.22 L407.39,313.57 L407.48,322.58 L407.57,332.09 L407.66,341.94 L407.76,351.97 L407.85,361.99 L407.94,371.84 L408.03,381.36 L408.13,390.36 L408.22,398.72 L408.31,406.27 L408.40,412.89 L408.50,418.47 L408.59,422.92 L408.68,426.15 L408.77,428.11 L408.87,428.76 L408.96,428.10 L409.05,426.12 L409.14,422.86 L409.24,418.38 L409.33,412.74 L409.42,406.06 L409.51,398.43 L409.60,390.00 L409.70,380.91 L409.79,371.31 L409.88,361.36 L409.97,351.24 L410.07,341.13 L410.16,331.18 L410.25,321.58 L410.34,312.48 L410.44,304.05 L410.53,296.43 L410.62,289.74 L410.71,284.11 L410.81,279.63 L410.90,276.37 L410.99,274.39 L411.08,273.73 L411.18,274.39 L411.27,276.37 L411.36,279.62 L411.45,284.11 L411.54,289.74 L411.64,296.42 L411.73,304.04 L411.82,312.47 L411.91,321.56 L412.01,331.15 L412.10,341.09 L412.19,351.21 L412.28,361.32 L412.38,371.26 L412.47,380.86 L412.56,389.95 L412.65,398.38 L412.75,406.00 L412.84,412.68 L412.93,418.31 L413.02,422.79 L413.12,426.05 L413.21,428.03 L413.30,428.69 L413.39,428.03 L413.48,426.07 L413.58,422.83 L413.67,418.38 L413.76,412.78 L413.85,406.14 L413.95,398.57 L414.04,390.20 L414.13,381.17 L414.22,371.64 L414.32,361.76 L414.41,351.71 L414.50,341.67 L414.59,331.79 L414.69,322.26 L414.78,313.23 L414.87,304.85 L414.96,297.28 L415.06,290.65 L415.15,285.05 L415.24,280.60 L415.33,277.36 L415.42,275.40 L415.52,274.74 L415.61,275.40 L415.70,277.36 L415.79,280.59 L415.89,285.04 L415.98,290.63 L416.07,297.26 L416.16,304.82 L416.26,313.19 L416.35,322.21 L416.44,331.73 L416.53,341.60 L416.63,351.64 L416.72,361.67 L416.81,371.54 L416.90,381.06 L417.00,390.09 L417.09,398.45 L417.18,406.01 L417.27,412.64 L417.36,418.23 L417.46,422.68 L417.55,425.91 L417.64,427.88 L417.73,428.53 L417.83,427.88 L417.92,425.92 L418.01,422.68 L418.10,418.24 L418.20,412.65 L418.29,406.02 L418.38,398.46 L418.47,390.10 L418.57,381.08 L418.66,371.56 L418.75,361.69 L418.84,351.66 L418.94,341.62 L419.03,331.76 L419.12,322.24 L419.21,313.22 L419.30,304.86 L419.40,297.30 L419.49,290.67 L419.58,285.08 L419.67,280.63 L419.77,277.40 L419.86,275.44 L419.95,274.78 L420.04,275.43 L420.14,277.38 L420.23,280.58 L420.32,284.99 L420.41,290.52 L420.51,297.09 L420.60,304.58 L420.69,312.86 L420.78,321.80 L420.88,331.23 L420.97,341.00 L421.06,350.94 L421.15,360.88 L421.24,370.65 L421.34,380.09 L421.43,389.02 L421.52,397.31 L421.61,404.80 L421.71,411.37 L421.80,416.90 L421.89,421.31 L421.98,424.51 L422.08,426.45 L422.17,427.10 L422.26,426.45 L422.35,424.49 L422.45,421.26 L422.54,416.81 L422.63,411.23 L422.72,404.60 L422.81,397.05 L422.91,388.69 L423.00,379.68 L423.09,370.16 L423.18,360.30 L423.28,350.28 L423.37,340.25 L423.46,330.39 L423.55,320.88 L423.65,311.86 L423.74,303.51 L423.83,295.95 L423.92,289.32 L424.02,283.74 L424.11,279.30 L424.20,276.07 L424.29,274.11 L424.39,273.45 L424.48,274.11 L424.57,276.08 L424.66,279.33 L424.75,283.81 L424.85,289.43 L424.94,296.10 L425.03,303.70 L425.12,312.11 L425.22,321.19 L425.31,330.77 L425.40,340.69 L425.49,350.78 L425.59,360.88 L425.68,370.80 L425.77,380.38 L425.86,389.45 L425.96,397.86 L426.05,405.47 L426.14,412.13 L426.23,417.75 L426.33,422.23 L426.42,425.48 L426.51,427.45 L426.60,428.12 L426.69,427.46 L426.79,425.50 L426.88,422.26 L426.97,417.82 L427.06,412.23 L427.16,405.60 L427.25,398.04 L427.34,389.68 L427.43,380.66 L427.53,371.14 L427.62,361.28 L427.71,351.24 L427.80,341.21 L427.90,331.35 L427.99,321.82 L428.08,312.81 L428.17,304.44 L428.27,296.88 L428.36,290.25 L428.45,284.67 L428.54,280.22 L428.63,276.99 L428.73,275.03 L428.82,274.37 L428.91,275.02 L429.00,276.98 L429.10,280.21 L429.19,284.64 L429.28,290.22 L429.37,296.83 L429.47,304.37 L429.56,312.71 L429.65,321.71 L429.74,331.21 L429.84,341.05 L429.93,351.06 L430.02,361.07 L430.11,370.91 L430.21,380.41 L430.30,389.41 L430.39,397.75 L430.48,405.29 L430.57,411.90 L430.67,417.48 L430.76,421.91 L430.85,425.14 L430.94,427.10 L431.04,427.75 L431.13,427.09 L431.22,425.13 L431.31,421.89 L431.41,417.43 L431.50,411.84 L431.59,405.20 L431.68,397.62 L431.78,389.25 L431.87,380.21 L431.96,370.67 L432.05,360.79 L432.15,350.74 L432.24,340.69 L432.33,330.81 L432.42,321.27 L432.51,312.23 L432.61,303.86 L432.70,296.28 L432.79,289.64 L432.88,284.04 L432.98,279.59 L433.07,276.35 L433.16,274.39 L433.25,273.73 L433.35,274.39 L433.44,276.36 L433.53,279.61 L433.62,284.09 L433.72,289.71 L433.81,296.37 L433.90,303.98 L433.99,312.39 L434.09,321.46 L434.18,331.04 L434.27,340.96 L434.36,351.05 L434.45,361.14 L434.55,371.06 L434.64,380.64 L434.73,389.71 L434.82,398.12 L434.92,405.73 L435.01,412.40 L435.10,418.01 L435.19,422.49 L435.29,425.74 L435.38,427.71 L435.47,428.37 L435.56,427.72 L435.66,425.75 L435.75,422.51 L435.84,418.06 L435.93,412.46 L436.03,405.82 L436.12,398.25 L436.21,389.87 L436.30,380.84 L436.39,371.30 L436.49,361.42 L436.58,351.37 L436.67,341.31 L436.76,331.43 L436.86,321.90 L436.95,312.86 L437.04,304.49 L437.13,296.91 L437.23,290.27 L437.32,284.68 L437.41,280.22 L437.50,276.98 L437.60,275.02 L437.69,274.36 L437.78,275.02 L437.87,276.98 L437.96,280.20 L438.06,284.65 L438.15,290.23 L438.24,296.86 L438.33,304.41 L438.43,312.76 L438.52,321.77 L438.61,331.29 L438.70,341.14 L438.80,351.17 L438.89,361.19 L438.98,371.05 L439.07,380.56 L439.17,389.57 L439.26,397.93 L439.35,405.48 L439.44,412.11 L439.54,417.69 L439.63,422.13 L439.72,425.36 L439.81,427.32 L439.90,427.98 L440.00,427.32 L440.09,425.36 L440.18,422.12 L440.27,417.67 L440.37,412.08 L440.46,405.44 L440.55,397.87 L440.64,389.50 L440.74,380.48 L440.83,370.94 L440.92,361.07 L441.01,351.03 L441.11,340.98 L441.20,331.11 L441.29,321.58 L441.38,312.55 L441.48,304.18 L441.57,296.61 L441.66,289.98 L441.75,284.38 L441.84,279.93 L441.94,276.70 L442.03,274.73 L442.12,274.07 L442.21,274.73 L442.31,276.70 L442.40,279.94 L442.49,284.40 L442.58,290.00 L442.68,296.65 L442.77,304.23 L442.86,312.61 L442.95,321.65 L443.05,331.20 L443.14,341.08 L443.23,351.14 L443.32,361.20 L443.42,371.09 L443.51,380.64 L443.60,389.68 L443.69,398.06 L443.78,405.64 L443.88,412.29 L443.97,417.89 L444.06,422.35 L444.15,425.59 L444.25,427.55 L444.34,428.21 L444.43,427.56 L444.52,425.60 L444.62,422.38 L444.71,417.94 L444.80,412.37 L444.89,405.76 L444.99,398.23 L445.08,389.89 L445.17,380.90 L445.26,371.41 L445.36,361.57 L445.45,351.57 L445.54,341.57 L445.63,331.73 L445.72,322.24 L445.82,313.25 L445.91,304.91 L446.00,297.38 L446.09,290.77 L446.19,285.20 L446.28,280.76 L446.37,277.54 L446.46,275.58 L446.56,274.93 L446.65,275.58 L446.74,277.54 L446.83,280.77 L446.93,285.20 L447.02,290.77 L447.11,297.39 L447.20,304.93 L447.30,313.27 L447.39,322.26 L447.48,331.76 L447.57,341.60 L447.66,351.60 L447.76,361.61 L447.85,371.45 L447.94,380.95 L448.03,389.94 L448.13,398.28 L448.22,405.82 L448.31,412.43 L448.40,418.01 L448.50,422.44 L448.59,425.67 L448.68,427.62 L448.77,428.28 L448.87,427.62 L448.96,425.65 L449.05,422.41 L449.14,417.95 L449.24,412.35 L449.33,405.70 L449.42,398.11 L449.51,389.73 L449.60,380.68 L449.70,371.13 L449.79,361.24 L449.88,351.18 L449.97,341.12 L450.07,331.22 L450.16,321.67 L450.25,312.63 L450.34,304.24 L450.44,296.66 L450.53,290.01 L450.62,284.41 L450.71,279.95 L450.81,276.71 L450.90,274.74 L450.99,274.08 L451.08,274.74 L451.18,276.70 L451.27,279.93 L451.36,284.38 L451.45,289.97 L451.54,296.60 L451.64,304.16 L451.73,312.52 L451.82,321.54 L451.91,331.06 L452.01,340.92 L452.10,350.96 L452.19,360.99 L452.28,370.85 L452.38,380.37 L452.47,389.39 L452.56,397.75 L452.65,405.31 L452.75,411.94 L452.84,417.53 L452.93,421.98 L453.02,425.21 L453.11,427.17 L453.21,427.83 L453.30,427.17 L453.39,425.20 L453.48,421.96 L453.58,417.50 L453.67,411.90 L453.76,405.25 L453.85,397.67 L453.95,389.29 L454.04,380.25 L454.13,370.70 L454.22,360.81 L454.32,350.75 L454.41,340.69 L454.50,330.80 L454.59,321.25 L454.69,312.21 L454.78,303.83 L454.87,296.25 L454.96,289.60 L455.05,284.00 L455.15,279.54 L455.24,276.30 L455.33,274.33 L455.42,273.67 L455.52,274.33 L455.61,276.30 L455.70,279.54 L455.79,284.00 L455.89,289.60 L455.98,296.25 L456.07,303.83 L456.16,312.21 L456.26,321.25 L456.35,330.80 L456.44,340.69 L456.53,350.75 L456.63,360.81 L456.72,370.70 L456.81,380.25 L456.90,389.29 L456.99,397.68 L457.09,405.26 L457.18,411.90 L457.27,417.51 L457.36,421.97 L457.46,425.21 L457.55,427.17 L457.64,427.83 L457.73,427.17 L457.83,425.20 L457.92,421.96 L458.01,417.50 L458.10,411.89 L458.20,405.23 L458.29,397.65 L458.38,389.25 L458.47,380.20 L458.57,370.65 L458.66,360.75 L458.75,350.68 L458.84,340.61 L458.93,330.71 L459.03,321.15 L459.12,312.10 L459.21,303.71 L459.30,296.12 L459.40,289.46 L459.49,283.86 L459.58,279.39 L459.67,276.15 L459.77,274.18 L459.86,273.52 L459.95,274.18 L460.04,276.14 L460.14,279.37 L460.23,283.82 L460.32,289.40 L460.41,296.03 L460.51,303.59 L460.60,311.95 L460.69,320.96 L460.78,330.48 L460.87,340.34 L460.97,350.37 L461.06,360.40 L461.15,370.26 L461.24,379.78 L461.34,388.80 L461.43,397.15 L461.52,404.71 L461.61,411.34 L461.71,416.92 L461.80,421.37 L461.89,424.60 L461.98,426.56 L462.08,427.22 L462.17,426.56 L462.26,424.58 L462.35,421.33 L462.45,416.85 L462.54,411.22 L462.63,404.55 L462.72,396.94 L462.81,388.52 L462.91,379.44 L463.00,369.85 L463.09,359.92 L463.18,349.81 L463.28,339.71 L463.37,329.78 L463.46,320.19 L463.55,311.11 L463.65,302.69 L463.74,295.08 L463.83,288.40 L463.92,282.78 L464.02,278.30 L464.11,275.04 L464.20,273.07 L464.29,272.40 L464.39,273.07 L464.48,275.05 L464.57,278.31 L464.66,282.80 L464.75,288.44 L464.85,295.14 L464.94,302.77 L465.03,311.21 L465.12,320.32 L465.22,329.94 L465.31,339.89 L465.40,350.03 L465.49,360.16 L465.59,370.11 L465.68,379.73 L465.77,388.84 L465.86,397.28 L465.96,404.91 L466.05,411.61 L466.14,417.25 L466.23,421.74 L466.32,425.00 L466.42,426.98 L466.51,427.65 L466.60,426.98 L466.69,425.00 L466.79,421.74 L466.88,417.25 L466.97,411.61 L467.06,404.91 L467.16,397.28 L467.25,388.84 L467.34,379.73 L467.43,370.11 L467.53,360.16 L467.62,350.03 L467.71,339.89 L467.80,329.94 L467.90,320.32 L467.99,311.21 L468.08,302.77 L468.17,295.14 L468.26,288.44 L468.36,282.80 L468.45,278.31 L468.54,275.05 L468.63,273.07 L468.73,272.40 L468.82,273.07 L468.91,275.04 L469.00,278.30 L469.10,282.77 L469.19,288.40 L469.28,295.07 L469.37,302.68 L469.47,311.10 L469.56,320.18 L469.65,329.76 L469.74,339.69 L469.84,349.79 L469.93,359.89 L470.02,369.82 L470.11,379.40 L470.20,388.48 L470.30,396.90 L470.39,404.51 L470.48,411.18 L470.57,416.81 L470.67,421.28 L470.76,424.54 L470.85,426.51 L470.94,427.17 L471.04,426.51 L471.13,424.54 L471.22,421.28 L471.31,416.81 L471.41,411.18 L471.50,404.51 L471.59,396.90 L471.68,388.48 L471.78,379.40 L471.87,369.82 L471.96,359.89 L472.05,349.79 L472.14,339.69 L472.24,329.76 L472.33,320.18 L472.42,311.10 L472.51,302.68 L472.61,295.07 L472.70,288.40 L472.79,282.77 L472.88,278.30 L472.98,275.04 L473.07,273.07 L473.16,272.40 L473.25,273.07 L473.35,275.04 L473.44,278.30 L473.53,282.78 L473.62,288.41 L473.72,295.09 L473.81,302.71 L473.90,311.13 L473.99,320.22 L474.08,329.81 L474.18,339.75 L474.27,349.86 L474.36,359.97 L474.45,369.90 L474.55,379.50 L474.64,388.59 L474.73,397.01 L474.82,404.63 L474.92,411.31 L475.01,416.94 L475.10,421.42 L475.19,424.67 L475.29,426.65 L475.38,427.31 L475.47,426.65 L475.56,424.68 L475.66,421.43 L475.75,416.96 L475.84,411.34 L475.93,404.67 L476.02,397.07 L476.12,388.67 L476.21,379.60 L476.30,370.02 L476.39,360.11 L476.49,350.02 L476.58,339.93 L476.67,330.01 L476.76,320.44 L476.86,311.37 L476.95,302.96 L477.04,295.36 L477.13,288.70 L477.23,283.08 L477.32,278.61 L477.41,275.36 L477.50,273.38 L477.60,272.72 L477.69,273.38 L477.78,275.35 L477.87,278.60 L477.96,283.06 L478.06,288.67 L478.15,295.32 L478.24,302.91 L478.33,311.31 L478.43,320.36 L478.52,329.92 L478.61,339.82 L478.70,349.89 L478.80,359.96 L478.89,369.86 L478.98,379.42 L479.07,388.47 L479.17,396.86 L479.26,404.45 L479.35,411.11 L479.44,416.72 L479.54,421.18 L479.63,424.43 L479.72,426.39 L479.81,427.05 L479.90,426.39 L480.00,424.43 L480.09,421.18 L480.18,416.72 L480.27,411.11 L480.37,404.45 L480.46,396.86 L480.55,388.47 L480.64,379.42 L480.74,369.86 L480.83,359.96 L480.92,349.89 L481.01,339.82 L481.11,329.92 L481.20,320.36 L481.29,311.31 L481.38,302.91 L481.48,295.32 L481.57,288.67 L481.66,283.06 L481.75,278.60 L481.84,275.35 L481.94,273.38 L482.03,272.72 L482.12,273.39 L482.21,275.36 L482.31,278.62 L482.40,283.10 L482.49,288.73 L482.58,295.41 L482.68,303.03 L482.77,311.46 L482.86,320.55 L482.95,330.14 L483.05,340.08 L483.14,350.19 L483.23,360.31 L483.32,370.25 L483.41,379.84 L483.51,388.93 L483.60,397.36 L483.69,404.98 L483.78,411.66 L483.88,417.29 L483.97,421.77 L484.06,425.03 L484.15,427.00 L484.25,427.67 L484.34,427.01 L484.43,425.04 L484.52,421.79 L484.62,417.32 L484.71,411.71 L484.80,405.06 L484.89,397.47 L484.99,389.07 L485.08,380.01 L485.17,370.45 L485.26,360.55 L485.35,350.47 L485.45,340.40 L485.54,330.49 L485.63,320.93 L485.72,311.88 L485.82,303.48 L485.91,295.89 L486.00,289.23 L486.09,283.62 L486.19,279.16 L486.28,275.91 L486.37,273.94 L486.46,273.28 L486.56,273.95 L486.65,275.93 L486.74,279.19 L486.83,283.69 L486.93,289.33 L487.02,296.03 L487.11,303.67 L487.20,312.12 L487.29,321.23 L487.39,330.85 L487.48,340.82 L487.57,350.96 L487.66,361.10 L487.76,371.06 L487.85,380.69 L487.94,389.80 L488.03,398.25 L488.13,405.89 L488.22,412.59 L488.31,418.23 L488.40,422.72 L488.50,425.99 L488.59,427.97 L488.68,428.64 L488.77,427.98 L488.87,426.01 L488.96,422.77 L489.05,418.32 L489.14,412.72 L489.23,406.07 L489.33,398.50 L489.42,390.12 L489.51,381.08 L489.60,371.54 L489.70,361.65 L489.79,351.60 L489.88,341.54 L489.97,331.66 L490.07,322.11 L490.16,313.08 L490.25,304.70 L490.34,297.12 L490.44,290.48 L490.53,284.88 L490.62,280.42 L490.71,277.18 L490.81,275.21 L490.90,274.56 L490.99,275.21 L491.08,277.16 L491.17,280.37 L491.27,284.79 L491.36,290.34 L491.45,296.93 L491.54,304.44 L491.64,312.74 L491.73,321.70 L491.82,331.16 L491.91,340.96 L492.01,350.93 L492.10,360.90 L492.19,370.70 L492.28,380.16 L492.38,389.12 L492.47,397.42 L492.56,404.93 L492.65,411.52 L492.75,417.07 L492.84,421.49 L492.93,424.70 L493.02,426.65 L493.11,427.30 L493.21,426.65 L493.30,424.70 L493.39,421.49 L493.48,417.07 L493.58,411.52 L493.67,404.93 L493.76,397.42 L493.85,389.12 L493.95,380.16 L494.04,370.70 L494.13,360.90 L494.22,350.93 L494.32,340.96 L494.41,331.16 L494.50,321.70 L494.59,312.74 L494.69,304.44 L494.78,296.93 L494.87,290.34 L494.96,284.79 L495.05,280.37 L495.15,277.16 L495.24,275.21 L495.33,274.56 L495.42,275.21 L495.52,277.15 L495.61,280.36 L495.70,284.77 L495.79,290.32 L495.89,296.90 L495.98,304.40 L496.07,312.69 L496.16,321.64 L496.26,331.09 L496.35,340.87 L496.44,350.83 L496.53,360.79 L496.62,370.57 L496.72,380.02 L496.81,388.97 L496.90,397.26 L496.99,404.76 L497.09,411.34 L497.18,416.89 L497.27,421.30 L497.36,424.51 L497.46,426.45 L497.55,427.11 L497.64,426.45 L497.73,424.51 L497.83,421.30 L497.92,416.89 L498.01,411.34 L498.10,404.76 L498.20,397.26 L498.29,388.97 L498.38,380.02 L498.47,370.57 L498.56,360.79 L498.66,350.83 L498.75,340.87 L498.84,331.09 L498.93,321.64 L499.03,312.69 L499.12,304.40 L499.21,296.90 L499.30,290.32 L499.40,284.77 L499.49,280.36 L499.58,277.15 L499.67,275.21 L499.77,274.56 L499.86,275.21 L499.95,277.16 L500.04,280.37 L500.14,284.78 L500.23,290.33 L500.32,296.91 L500.41,304.42 L500.50,312.72 L500.60,321.68 L500.69,331.13 L500.78,340.92 L500.87,350.89 L500.97,360.85 L501.06,370.64 L501.15,380.10 L501.24,389.05 L501.34,397.36 L501.43,404.86 L501.52,411.45 L501.61,416.99 L501.71,421.41 L501.80,424.62 L501.89,426.57 L501.98,427.22 L502.08,426.57 L502.17,424.63 L502.26,421.43 L502.35,417.03 L502.44,411.50 L502.54,404.94 L502.63,397.46 L502.72,389.19 L502.81,380.27 L502.91,370.85 L503.00,361.09 L503.09,351.17 L503.18,341.24 L503.28,331.48 L503.37,322.06 L503.46,313.14 L503.55,304.87 L503.65,297.39 L503.74,290.83 L503.83,285.30 L503.92,280.90 L504.02,277.70 L504.11,275.76 L504.20,275.11 L504.24,275.47 L504.29,276.52 L504.33,278.25 L504.38,280.63 L504.42,283.62 L504.47,287.17 L504.51,291.21 L504.55,295.69 L504.60,300.51 L504.64,305.61 L504.69,310.89 L504.73,316.26 L504.77,321.63 L504.82,326.91 L504.86,332.01 L504.91,336.84 L504.95,341.31 L505.00,345.36 L505.04,348.91 L505.08,351.90 L505.13,354.28 L505.17,356.01 L505.22,357.06 L505.26,357.41" class="d" style="stroke:url(#gd)"/>
<rect x="321.5" y="254.4" width="221.10" height="191.20" class="bx"/>
<line x1="365.72" y1="445.6" x2="365.72" y2="443.40000000000003" class="tk"/>
<line x1="365.72" y1="254.4" x2="365.72" y2="256.6" class="tk"/>
<line x1="409.94" y1="445.6" x2="409.94" y2="443.40000000000003" class="tk"/>
<line x1="409.94" y1="254.4" x2="409.94" y2="256.6" class="tk"/>
<line x1="454.16" y1="445.6" x2="454.16" y2="443.40000000000003" class="tk"/>
<line x1="454.16" y1="254.4" x2="454.16" y2="256.6" class="tk"/>
<line x1="498.38" y1="445.6" x2="498.38" y2="443.40000000000003" class="tk"/>
<line x1="498.38" y1="254.4" x2="498.38" y2="256.6" class="tk"/>
<line x1="321.5" y1="429.67" x2="323.7" y2="429.67" class="tk"/>
<line x1="542.6" y1="429.67" x2="540.4" y2="429.67" class="tk"/>
<line x1="321.5" y1="389.83" x2="323.7" y2="389.83" class="tk"/>
<line x1="542.6" y1="389.83" x2="540.4" y2="389.83" class="tk"/>
<line x1="321.5" y1="350.00" x2="323.7" y2="350.00" class="tk"/>
<line x1="542.6" y1="350.00" x2="540.4" y2="350.00" class="tk"/>
<line x1="321.5" y1="310.17" x2="323.7" y2="310.17" class="tk"/>
<line x1="542.6" y1="310.17" x2="540.4" y2="310.17" class="tk"/>
<line x1="321.5" y1="270.33" x2="323.7" y2="270.33" class="tk"/>
<line x1="542.6" y1="270.33" x2="540.4" y2="270.33" class="tk"/>

<g filter="url(#bl)">

<text x="41.20" y="210.80" class="tl" text-anchor="middle">0</text>
<text x="85.36" y="210.80" class="tl" text-anchor="middle">5</text>
<text x="129.52" y="210.80" class="tl" text-anchor="middle">10</text>
<text x="173.68" y="210.80" class="tl" text-anchor="middle">15</text>
<text x="217.84" y="210.80" class="tl" text-anchor="middle">20</text>
<text x="262.00" y="210.80" class="tl" text-anchor="middle">25</text>
<text x="37.20" y="183.47" class="tl" text-anchor="end">−100</text>
<text x="37.20" y="143.63" class="tl" text-anchor="end">−50</text>
<text x="37.20" y="103.80" class="tl" text-anchor="end">0</text>
<text x="37.20" y="63.97" class="tl" text-anchor="end">50</text>
<text x="37.20" y="24.13" class="tl" text-anchor="end">100</text>

<text x="318.50" y="211.00" class="tl" text-anchor="middle">0</text>
<text x="363.30" y="211.00" class="tl" text-anchor="middle">5</text>
<text x="408.10" y="211.00" class="tl" text-anchor="middle">10</text>
<text x="452.90" y="211.00" class="tl" text-anchor="middle">15</text>
<text x="497.70" y="211.00" class="tl" text-anchor="middle">20</text>
<text x="542.50" y="211.00" class="tl" text-anchor="middle">25</text>
<text x="314.50" y="199.60" class="tl" text-anchor="end">−0.2</text>
<text x="314.50" y="176.49" class="tl" text-anchor="end">0</text>
<text x="314.50" y="153.38" class="tl" text-anchor="end">0.2</text>
<text x="314.50" y="130.26" class="tl" text-anchor="end">0.4</text>
<text x="314.50" y="107.15" class="tl" text-anchor="end">0.6</text>
<text x="314.50" y="84.04" class="tl" text-anchor="end">0.8</text>
<text x="314.50" y="60.93" class="tl" text-anchor="end">1</text>
<text x="314.50" y="37.81" class="tl" text-anchor="end">1.2</text>

<text x="32.40" y="461.30" class="tl" text-anchor="middle">0</text>
<text x="78.34" y="461.30" class="tl" text-anchor="middle">5</text>
<text x="124.28" y="461.30" class="tl" text-anchor="middle">10</text>
<text x="170.22" y="461.30" class="tl" text-anchor="middle">15</text>
<text x="216.16" y="461.30" class="tl" text-anchor="middle">20</text>
<text x="262.10" y="461.30" class="tl" text-anchor="middle">25</text>
<text x="28.40" y="449.90" class="tl" text-anchor="end">−5</text>
<text x="28.40" y="412.98" class="tl" text-anchor="end">0</text>
<text x="28.40" y="376.06" class="tl" text-anchor="end">5</text>
<text x="28.40" y="339.14" class="tl" text-anchor="end">10</text>
<text x="28.40" y="302.22" class="tl" text-anchor="end">15</text>
<text x="28.40" y="265.30" class="tl" text-anchor="end">20</text>

<text x="321.50" y="461.40" class="tl" text-anchor="middle">0</text>
<text x="365.72" y="461.40" class="tl" text-anchor="middle">5</text>
<text x="409.94" y="461.40" class="tl" text-anchor="middle">10</text>
<text x="454.16" y="461.40" class="tl" text-anchor="middle">15</text>
<text x="498.38" y="461.40" class="tl" text-anchor="middle">20</text>
<text x="542.60" y="461.40" class="tl" text-anchor="middle">25</text>
<text x="317.50" y="434.07" class="tl" text-anchor="end">−100</text>
<text x="317.50" y="394.23" class="tl" text-anchor="end">−50</text>
<text x="317.50" y="354.40" class="tl" text-anchor="end">0</text>
<text x="317.50" y="314.57" class="tl" text-anchor="end">50</text>
<text x="317.50" y="274.73" class="tl" text-anchor="end">100</text>
<text x="144.85" y="223.2" class="xl" text-anchor="middle" textLength="40.300000000000004" lengthAdjust="spacingAndGlyphs">Time (s)</text>
<text x="426.35" y="223.3" class="xl" text-anchor="middle" textLength="39.5" lengthAdjust="spacingAndGlyphs">Time (s)</text>
<text x="140.45" y="474.0" class="xl" text-anchor="middle" textLength="39.7" lengthAdjust="spacingAndGlyphs">Time (s)</text>
<text x="426.35" y="474.0" class="xl" text-anchor="middle" textLength="39.5" lengthAdjust="spacingAndGlyphs">Time (s)</text>
<text transform="translate(12.8,99.35) rotate(-90)" class="xl" text-anchor="middle" textLength="87.89999999999999" lengthAdjust="spacingAndGlyphs">Displacement (mm)</text>
<text transform="translate(292.7,103.0) rotate(-90)" class="xl" text-anchor="middle" textLength="88.0" lengthAdjust="spacingAndGlyphs">Displacement (mm)</text>
<text transform="translate(12.6,353.4) rotate(-90)" class="xl" text-anchor="middle" textLength="88.0" lengthAdjust="spacingAndGlyphs">Displacement (mm)</text>
<text transform="translate(293.0,350.05) rotate(-90)" class="xl" text-anchor="middle" textLength="88.3" lengthAdjust="spacingAndGlyphs">Displacement (mm)</text>
<text x="134.85" y="247.1" class="pl" text-anchor="middle" textLength="12.5" lengthAdjust="spacingAndGlyphs"><tspan class="pp">(</tspan>a<tspan class="pp">)</tspan></text>
<text x="415.45" y="247.1" class="pl" text-anchor="middle" textLength="13.3" lengthAdjust="spacingAndGlyphs"><tspan class="pp">(</tspan>b<tspan class="pp">)</tspan></text>
<text x="135.0" y="498.3" class="pl" text-anchor="middle" textLength="12.0" lengthAdjust="spacingAndGlyphs"><tspan class="pp">(</tspan>c<tspan class="pp">)</tspan></text>
<text x="415.45" y="498.3" class="pl" text-anchor="middle" textLength="13.3" lengthAdjust="spacingAndGlyphs"><tspan class="pp">(</tspan>d<tspan class="pp">)</tspan></text>
</g>
</svg>
</body></html>
